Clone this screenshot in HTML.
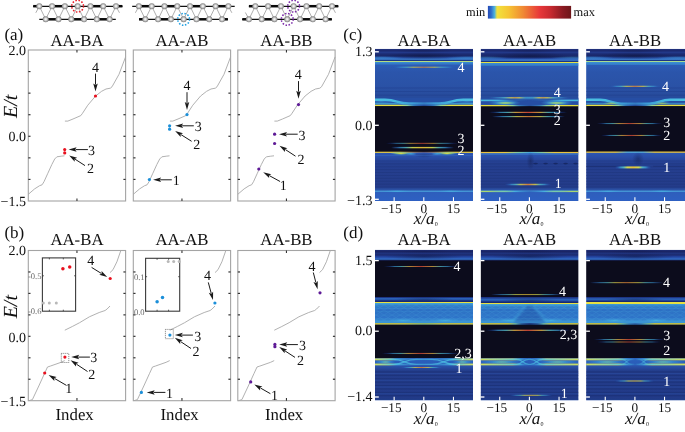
<!DOCTYPE html><html><head><meta charset="utf-8"><style>html,body{margin:0;padding:0;background:#fff;overflow:hidden}svg{display:block;will-change:transform}text{font-family:"Liberation Serif",serif;text-rendering:geometricPrecision}</style></head><body>
<svg width="685" height="432" viewBox="0 0 685 432">
<defs>
<radialGradient id="atom" cx="0.5" cy="0.5" r="0.55" fx="0.5" fy="0.48"><stop offset="0" stop-color="#ffffff"/><stop offset="0.3" stop-color="#e2e2e2"/><stop offset="0.65" stop-color="#a8a8a8"/><stop offset="1" stop-color="#6a6a6a"/></radialGradient>
<linearGradient id="cbar" x1="0" y1="0" x2="1" y2="0">
<stop offset="0" stop-color="#2348b5"/><stop offset="0.04" stop-color="#2f6fcc"/><stop offset="0.08" stop-color="#4fb3dc"/><stop offset="0.11" stop-color="#f2e23c"/>
<stop offset="0.25" stop-color="#f6c433"/><stop offset="0.42" stop-color="#f08a34"/><stop offset="0.62" stop-color="#e8383a"/><stop offset="0.75" stop-color="#c82a30"/><stop offset="0.9" stop-color="#8a1a22"/><stop offset="1" stop-color="#6e1619"/>
</linearGradient>
</defs>
<rect width="685" height="432" fill="#fff"/>
<line x1="33.2" y1="6.4" x2="122.4" y2="6.4" stroke="#111" stroke-width="1.1"/>
<line x1="39.3" y1="19.3" x2="115.8" y2="19.3" stroke="#111" stroke-width="1.2"/>
<line x1="33.20" y1="6.2" x2="39.30" y2="6.2" stroke="#0a0a0a" stroke-width="2.5"/>
<line x1="52.08" y1="6.2" x2="64.86" y2="6.2" stroke="#0a0a0a" stroke-width="2.5"/>
<line x1="90.42" y1="6.2" x2="103.20" y2="6.2" stroke="#0a0a0a" stroke-width="2.5"/>
<line x1="115.98" y1="6.2" x2="122.40" y2="6.2" stroke="#0a0a0a" stroke-width="2.5"/>
<line x1="45.70" y1="19.3" x2="58.48" y2="19.3" stroke="#0a0a0a" stroke-width="2.5"/>
<line x1="71.26" y1="19.3" x2="84.04" y2="19.3" stroke="#0a0a0a" stroke-width="2.5"/>
<line x1="96.82" y1="19.3" x2="109.60" y2="19.3" stroke="#0a0a0a" stroke-width="2.5"/>
<polyline points="39.30,6.20 45.70,19.30 52.08,6.20 58.48,19.30 64.86,6.20 71.26,19.30 77.64,6.20 84.04,19.30 90.42,6.20 96.82,19.30 103.20,6.20 109.60,19.30 115.98,6.20" fill="none" stroke="#9a9a9a" stroke-width="0.8"/>
<line x1="39.30" y1="6.30" x2="35.80" y2="12.80" stroke="#9a9a9a" stroke-width="0.8"/>
<line x1="115.98" y1="6.30" x2="119.48" y2="12.80" stroke="#9a9a9a" stroke-width="0.8"/>
<circle cx="39.30" cy="6.2" r="3.0" fill="url(#atom)"/>
<circle cx="52.08" cy="6.2" r="3.0" fill="url(#atom)"/>
<circle cx="64.86" cy="6.2" r="3.0" fill="url(#atom)"/>
<circle cx="77.64" cy="6.2" r="3.0" fill="url(#atom)"/>
<circle cx="90.42" cy="6.2" r="3.0" fill="url(#atom)"/>
<circle cx="103.20" cy="6.2" r="3.0" fill="url(#atom)"/>
<circle cx="115.98" cy="6.2" r="3.0" fill="url(#atom)"/>
<circle cx="45.70" cy="19.3" r="3.0" fill="url(#atom)"/>
<circle cx="58.48" cy="19.3" r="3.0" fill="url(#atom)"/>
<circle cx="71.26" cy="19.3" r="3.0" fill="url(#atom)"/>
<circle cx="84.04" cy="19.3" r="3.0" fill="url(#atom)"/>
<circle cx="96.82" cy="19.3" r="3.0" fill="url(#atom)"/>
<circle cx="109.60" cy="19.3" r="3.0" fill="url(#atom)"/>
<circle cx="77.64" cy="6.20" r="5.9" fill="none" stroke="#e8202a" stroke-width="1.5" stroke-dasharray="1.5 1.6"/>
<line x1="132.2" y1="6.4" x2="234.7" y2="6.4" stroke="#111" stroke-width="1.1"/>
<line x1="139.0" y1="19.3" x2="227.9" y2="19.3" stroke="#111" stroke-width="1.2"/>
<line x1="138.90" y1="6.2" x2="151.68" y2="6.2" stroke="#0a0a0a" stroke-width="2.5"/>
<line x1="164.46" y1="6.2" x2="177.24" y2="6.2" stroke="#0a0a0a" stroke-width="2.5"/>
<line x1="190.02" y1="6.2" x2="202.80" y2="6.2" stroke="#0a0a0a" stroke-width="2.5"/>
<line x1="215.58" y1="6.2" x2="228.36" y2="6.2" stroke="#0a0a0a" stroke-width="2.5"/>
<line x1="139.00" y1="19.3" x2="145.30" y2="19.3" stroke="#0a0a0a" stroke-width="2.5"/>
<line x1="158.08" y1="19.3" x2="170.86" y2="19.3" stroke="#0a0a0a" stroke-width="2.5"/>
<line x1="196.42" y1="19.3" x2="209.20" y2="19.3" stroke="#0a0a0a" stroke-width="2.5"/>
<line x1="221.98" y1="19.3" x2="227.90" y2="19.3" stroke="#0a0a0a" stroke-width="2.5"/>
<polyline points="138.90,6.20 145.30,19.30 151.68,6.20 158.08,19.30 164.46,6.20 170.86,19.30 177.24,6.20 183.64,19.30 190.02,6.20 196.42,19.30 202.80,6.20 209.20,19.30 215.58,6.20 221.98,19.30 228.36,6.20" fill="none" stroke="#9a9a9a" stroke-width="0.8"/>
<line x1="138.90" y1="6.30" x2="135.40" y2="12.80" stroke="#9a9a9a" stroke-width="0.8"/>
<line x1="228.36" y1="6.30" x2="231.86" y2="12.80" stroke="#9a9a9a" stroke-width="0.8"/>
<circle cx="138.90" cy="6.2" r="3.0" fill="url(#atom)"/>
<circle cx="151.68" cy="6.2" r="3.0" fill="url(#atom)"/>
<circle cx="164.46" cy="6.2" r="3.0" fill="url(#atom)"/>
<circle cx="177.24" cy="6.2" r="3.0" fill="url(#atom)"/>
<circle cx="190.02" cy="6.2" r="3.0" fill="url(#atom)"/>
<circle cx="202.80" cy="6.2" r="3.0" fill="url(#atom)"/>
<circle cx="215.58" cy="6.2" r="3.0" fill="url(#atom)"/>
<circle cx="228.36" cy="6.2" r="3.0" fill="url(#atom)"/>
<circle cx="145.30" cy="19.3" r="3.0" fill="url(#atom)"/>
<circle cx="158.08" cy="19.3" r="3.0" fill="url(#atom)"/>
<circle cx="170.86" cy="19.3" r="3.0" fill="url(#atom)"/>
<circle cx="183.64" cy="19.3" r="3.0" fill="url(#atom)"/>
<circle cx="196.42" cy="19.3" r="3.0" fill="url(#atom)"/>
<circle cx="209.20" cy="19.3" r="3.0" fill="url(#atom)"/>
<circle cx="221.98" cy="19.3" r="3.0" fill="url(#atom)"/>
<circle cx="183.64" cy="19.30" r="5.9" fill="none" stroke="#1e9ee0" stroke-width="1.5" stroke-dasharray="1.5 1.6"/>
<line x1="248.9" y1="6.4" x2="338.3" y2="6.4" stroke="#111" stroke-width="1.1"/>
<line x1="242.3" y1="19.3" x2="331.8" y2="19.3" stroke="#111" stroke-width="1.2"/>
<line x1="248.90" y1="6.2" x2="255.30" y2="6.2" stroke="#0a0a0a" stroke-width="2.5"/>
<line x1="268.08" y1="6.2" x2="280.86" y2="6.2" stroke="#0a0a0a" stroke-width="2.5"/>
<line x1="306.42" y1="6.2" x2="319.20" y2="6.2" stroke="#0a0a0a" stroke-width="2.5"/>
<line x1="331.98" y1="6.2" x2="338.30" y2="6.2" stroke="#0a0a0a" stroke-width="2.5"/>
<line x1="242.30" y1="19.3" x2="248.90" y2="19.3" stroke="#0a0a0a" stroke-width="2.5"/>
<line x1="261.68" y1="19.3" x2="274.46" y2="19.3" stroke="#0a0a0a" stroke-width="2.5"/>
<line x1="300.02" y1="19.3" x2="312.80" y2="19.3" stroke="#0a0a0a" stroke-width="2.5"/>
<line x1="325.58" y1="19.3" x2="331.80" y2="19.3" stroke="#0a0a0a" stroke-width="2.5"/>
<polyline points="248.90,19.30 255.30,6.20 261.68,19.30 268.08,6.20 274.46,19.30 280.86,6.20 287.24,19.30 293.64,6.20 300.02,19.30 306.42,6.20 312.80,19.30 319.20,6.20 325.58,19.30 331.98,6.20" fill="none" stroke="#9a9a9a" stroke-width="0.8"/>
<line x1="248.90" y1="19.00" x2="245.40" y2="12.50" stroke="#9a9a9a" stroke-width="0.8"/>
<line x1="331.98" y1="6.30" x2="335.48" y2="12.80" stroke="#9a9a9a" stroke-width="0.8"/>
<circle cx="255.30" cy="6.2" r="3.0" fill="url(#atom)"/>
<circle cx="268.08" cy="6.2" r="3.0" fill="url(#atom)"/>
<circle cx="280.86" cy="6.2" r="3.0" fill="url(#atom)"/>
<circle cx="293.64" cy="6.2" r="3.0" fill="url(#atom)"/>
<circle cx="306.42" cy="6.2" r="3.0" fill="url(#atom)"/>
<circle cx="319.20" cy="6.2" r="3.0" fill="url(#atom)"/>
<circle cx="331.98" cy="6.2" r="3.0" fill="url(#atom)"/>
<circle cx="248.90" cy="19.3" r="3.0" fill="url(#atom)"/>
<circle cx="261.68" cy="19.3" r="3.0" fill="url(#atom)"/>
<circle cx="274.46" cy="19.3" r="3.0" fill="url(#atom)"/>
<circle cx="287.24" cy="19.3" r="3.0" fill="url(#atom)"/>
<circle cx="300.02" cy="19.3" r="3.0" fill="url(#atom)"/>
<circle cx="312.80" cy="19.3" r="3.0" fill="url(#atom)"/>
<circle cx="325.58" cy="19.3" r="3.0" fill="url(#atom)"/>
<circle cx="293.64" cy="6.20" r="5.9" fill="none" stroke="#7a2aa8" stroke-width="1.5" stroke-dasharray="1.5 1.6"/>
<circle cx="287.24" cy="19.30" r="5.9" fill="none" stroke="#7a2aa8" stroke-width="1.5" stroke-dasharray="1.5 1.6"/>
<rect x="28.30" y="50.00" width="97.30" height="151.00" fill="none" stroke="#a4a4a4" stroke-width="1.1"/>
<line x1="76.95" y1="50.0" x2="76.95" y2="52.6" stroke="#333" stroke-width="1.1"/>
<line x1="76.95" y1="201.0" x2="76.95" y2="198.4" stroke="#333" stroke-width="1.1"/>
<line x1="28.3" y1="71.57" x2="30.50" y2="71.57" stroke="#333" stroke-width="1.2"/>
<line x1="125.60" y1="71.57" x2="123.40" y2="71.57" stroke="#333" stroke-width="1.2"/>
<line x1="28.3" y1="93.14" x2="30.50" y2="93.14" stroke="#333" stroke-width="1.2"/>
<line x1="125.60" y1="93.14" x2="123.40" y2="93.14" stroke="#333" stroke-width="1.2"/>
<line x1="28.3" y1="114.71" x2="30.50" y2="114.71" stroke="#333" stroke-width="1.2"/>
<line x1="125.60" y1="114.71" x2="123.40" y2="114.71" stroke="#333" stroke-width="1.2"/>
<line x1="28.3" y1="136.29" x2="30.50" y2="136.29" stroke="#333" stroke-width="1.2"/>
<line x1="125.60" y1="136.29" x2="123.40" y2="136.29" stroke="#333" stroke-width="1.2"/>
<line x1="28.3" y1="157.86" x2="30.50" y2="157.86" stroke="#333" stroke-width="1.2"/>
<line x1="125.60" y1="157.86" x2="123.40" y2="157.86" stroke="#333" stroke-width="1.2"/>
<line x1="28.3" y1="179.43" x2="30.50" y2="179.43" stroke="#333" stroke-width="1.2"/>
<line x1="125.60" y1="179.43" x2="123.40" y2="179.43" stroke="#333" stroke-width="1.2"/>
<polyline points="64.90,121.10 67.80,121.10 73.00,119.00 80.80,115.60 82.50,113.30 87.80,105.20 95.60,96.00 101.60,91.30 106.00,89.00 110.30,88.20 112.00,86.80 119.00,74.30 125.60,56.90" fill="none" stroke="#a8a8a8" stroke-width="0.9" stroke-linejoin="round"/>
<polyline points="28.30,194.30 34.60,188.90 39.60,185.70 42.10,184.80 44.00,181.70 47.60,173.80 51.90,164.40 54.70,159.00 56.90,156.80 61.20,156.20 64.50,155.80" fill="none" stroke="#a8a8a8" stroke-width="0.9" stroke-linejoin="round"/>
<rect x="28.30" y="250.50" width="97.30" height="150.20" fill="none" stroke="#a4a4a4" stroke-width="1.1"/>
<line x1="76.95" y1="250.5" x2="76.95" y2="253.1" stroke="#333" stroke-width="1.1"/>
<line x1="76.95" y1="400.7" x2="76.95" y2="398.09999999999997" stroke="#333" stroke-width="1.1"/>
<line x1="28.3" y1="271.96" x2="30.50" y2="271.96" stroke="#333" stroke-width="1.2"/>
<line x1="125.60" y1="271.96" x2="123.40" y2="271.96" stroke="#333" stroke-width="1.2"/>
<line x1="28.3" y1="293.41" x2="30.50" y2="293.41" stroke="#333" stroke-width="1.2"/>
<line x1="125.60" y1="293.41" x2="123.40" y2="293.41" stroke="#333" stroke-width="1.2"/>
<line x1="28.3" y1="314.87" x2="30.50" y2="314.87" stroke="#333" stroke-width="1.2"/>
<line x1="125.60" y1="314.87" x2="123.40" y2="314.87" stroke="#333" stroke-width="1.2"/>
<line x1="28.3" y1="336.33" x2="30.50" y2="336.33" stroke="#333" stroke-width="1.2"/>
<line x1="125.60" y1="336.33" x2="123.40" y2="336.33" stroke="#333" stroke-width="1.2"/>
<line x1="28.3" y1="357.79" x2="30.50" y2="357.79" stroke="#333" stroke-width="1.2"/>
<line x1="125.60" y1="357.79" x2="123.40" y2="357.79" stroke="#333" stroke-width="1.2"/>
<line x1="28.3" y1="379.24" x2="30.50" y2="379.24" stroke="#333" stroke-width="1.2"/>
<line x1="125.60" y1="379.24" x2="123.40" y2="379.24" stroke="#333" stroke-width="1.2"/>
<polyline points="120.80,250.60 116.90,261.80 113.00,269.70 110.00,272.60" fill="none" stroke="#a8a8a8" stroke-width="0.9" stroke-linejoin="round"/>
<polyline points="64.80,330.20 72.30,326.50 79.60,322.70 89.40,316.80 99.20,312.50 105.10,310.50 107.10,309.00 110.00,306.00" fill="none" stroke="#a8a8a8" stroke-width="0.9" stroke-linejoin="round"/>
<polyline points="28.90,400.70 32.40,399.60 38.80,386.00 44.60,373.30 47.50,367.00 50.30,366.10 61.10,362.30 64.70,360.60" fill="none" stroke="#a8a8a8" stroke-width="0.9" stroke-linejoin="round"/>
<rect x="133.30" y="50.00" width="97.30" height="151.00" fill="none" stroke="#a4a4a4" stroke-width="1.1"/>
<line x1="181.95" y1="50.0" x2="181.95" y2="52.6" stroke="#333" stroke-width="1.1"/>
<line x1="181.95" y1="201.0" x2="181.95" y2="198.4" stroke="#333" stroke-width="1.1"/>
<line x1="133.3" y1="71.57" x2="135.50" y2="71.57" stroke="#333" stroke-width="1.2"/>
<line x1="230.60" y1="71.57" x2="228.40" y2="71.57" stroke="#333" stroke-width="1.2"/>
<line x1="133.3" y1="93.14" x2="135.50" y2="93.14" stroke="#333" stroke-width="1.2"/>
<line x1="230.60" y1="93.14" x2="228.40" y2="93.14" stroke="#333" stroke-width="1.2"/>
<line x1="133.3" y1="114.71" x2="135.50" y2="114.71" stroke="#333" stroke-width="1.2"/>
<line x1="230.60" y1="114.71" x2="228.40" y2="114.71" stroke="#333" stroke-width="1.2"/>
<line x1="133.3" y1="136.29" x2="135.50" y2="136.29" stroke="#333" stroke-width="1.2"/>
<line x1="230.60" y1="136.29" x2="228.40" y2="136.29" stroke="#333" stroke-width="1.2"/>
<line x1="133.3" y1="157.86" x2="135.50" y2="157.86" stroke="#333" stroke-width="1.2"/>
<line x1="230.60" y1="157.86" x2="228.40" y2="157.86" stroke="#333" stroke-width="1.2"/>
<line x1="133.3" y1="179.43" x2="135.50" y2="179.43" stroke="#333" stroke-width="1.2"/>
<line x1="230.60" y1="179.43" x2="228.40" y2="179.43" stroke="#333" stroke-width="1.2"/>
<polyline points="169.90,121.10 172.80,121.10 178.00,119.00 185.80,115.60 187.50,113.30 192.80,105.20 200.60,96.00 206.60,91.30 211.00,89.00 215.30,88.20 217.00,86.80 224.00,74.30 230.60,56.90" fill="none" stroke="#a8a8a8" stroke-width="0.9" stroke-linejoin="round"/>
<polyline points="133.30,194.30 139.60,188.90 144.60,185.70 147.10,184.80 149.00,181.70 152.60,173.80 156.90,164.40 159.70,159.00 161.90,156.80 166.20,156.20 169.50,155.80" fill="none" stroke="#a8a8a8" stroke-width="0.9" stroke-linejoin="round"/>
<rect x="133.30" y="250.50" width="97.30" height="150.20" fill="none" stroke="#a4a4a4" stroke-width="1.1"/>
<line x1="181.95" y1="250.5" x2="181.95" y2="253.1" stroke="#333" stroke-width="1.1"/>
<line x1="181.95" y1="400.7" x2="181.95" y2="398.09999999999997" stroke="#333" stroke-width="1.1"/>
<line x1="133.3" y1="271.96" x2="135.50" y2="271.96" stroke="#333" stroke-width="1.2"/>
<line x1="230.60" y1="271.96" x2="228.40" y2="271.96" stroke="#333" stroke-width="1.2"/>
<line x1="133.3" y1="293.41" x2="135.50" y2="293.41" stroke="#333" stroke-width="1.2"/>
<line x1="230.60" y1="293.41" x2="228.40" y2="293.41" stroke="#333" stroke-width="1.2"/>
<line x1="133.3" y1="314.87" x2="135.50" y2="314.87" stroke="#333" stroke-width="1.2"/>
<line x1="230.60" y1="314.87" x2="228.40" y2="314.87" stroke="#333" stroke-width="1.2"/>
<line x1="133.3" y1="336.33" x2="135.50" y2="336.33" stroke="#333" stroke-width="1.2"/>
<line x1="230.60" y1="336.33" x2="228.40" y2="336.33" stroke="#333" stroke-width="1.2"/>
<line x1="133.3" y1="357.79" x2="135.50" y2="357.79" stroke="#333" stroke-width="1.2"/>
<line x1="230.60" y1="357.79" x2="228.40" y2="357.79" stroke="#333" stroke-width="1.2"/>
<line x1="133.3" y1="379.24" x2="135.50" y2="379.24" stroke="#333" stroke-width="1.2"/>
<line x1="230.60" y1="379.24" x2="228.40" y2="379.24" stroke="#333" stroke-width="1.2"/>
<polyline points="225.80,250.60 221.90,261.80 218.00,269.70 215.00,272.60" fill="none" stroke="#a8a8a8" stroke-width="0.9" stroke-linejoin="round"/>
<polyline points="169.80,330.20 177.30,326.50 184.60,322.70 194.40,316.80 204.20,312.50 210.10,310.50 212.10,309.00 215.00,306.00" fill="none" stroke="#a8a8a8" stroke-width="0.9" stroke-linejoin="round"/>
<polyline points="133.90,400.70 137.40,399.60 143.80,386.00 149.60,373.30 152.50,367.00 155.30,366.10 166.10,362.30 169.70,360.60" fill="none" stroke="#a8a8a8" stroke-width="0.9" stroke-linejoin="round"/>
<rect x="237.80" y="50.00" width="97.30" height="151.00" fill="none" stroke="#a4a4a4" stroke-width="1.1"/>
<line x1="286.45" y1="50.0" x2="286.45" y2="52.6" stroke="#333" stroke-width="1.1"/>
<line x1="286.45" y1="201.0" x2="286.45" y2="198.4" stroke="#333" stroke-width="1.1"/>
<line x1="237.8" y1="71.57" x2="240.00" y2="71.57" stroke="#333" stroke-width="1.2"/>
<line x1="335.10" y1="71.57" x2="332.90" y2="71.57" stroke="#333" stroke-width="1.2"/>
<line x1="237.8" y1="93.14" x2="240.00" y2="93.14" stroke="#333" stroke-width="1.2"/>
<line x1="335.10" y1="93.14" x2="332.90" y2="93.14" stroke="#333" stroke-width="1.2"/>
<line x1="237.8" y1="114.71" x2="240.00" y2="114.71" stroke="#333" stroke-width="1.2"/>
<line x1="335.10" y1="114.71" x2="332.90" y2="114.71" stroke="#333" stroke-width="1.2"/>
<line x1="237.8" y1="136.29" x2="240.00" y2="136.29" stroke="#333" stroke-width="1.2"/>
<line x1="335.10" y1="136.29" x2="332.90" y2="136.29" stroke="#333" stroke-width="1.2"/>
<line x1="237.8" y1="157.86" x2="240.00" y2="157.86" stroke="#333" stroke-width="1.2"/>
<line x1="335.10" y1="157.86" x2="332.90" y2="157.86" stroke="#333" stroke-width="1.2"/>
<line x1="237.8" y1="179.43" x2="240.00" y2="179.43" stroke="#333" stroke-width="1.2"/>
<line x1="335.10" y1="179.43" x2="332.90" y2="179.43" stroke="#333" stroke-width="1.2"/>
<polyline points="274.40,121.10 277.30,121.10 282.50,119.00 290.30,115.60 292.00,113.30 297.30,105.20 305.10,96.00 311.10,91.30 315.50,89.00 319.80,88.20 321.50,86.80 328.50,74.30 335.10,56.90" fill="none" stroke="#a8a8a8" stroke-width="0.9" stroke-linejoin="round"/>
<polyline points="237.80,194.30 244.10,188.90 249.10,185.70 251.60,184.80 253.50,181.70 257.10,173.80 261.40,164.40 264.20,159.00 266.40,156.80 270.70,156.20 274.00,155.80" fill="none" stroke="#a8a8a8" stroke-width="0.9" stroke-linejoin="round"/>
<rect x="237.80" y="250.50" width="97.30" height="150.20" fill="none" stroke="#a4a4a4" stroke-width="1.1"/>
<line x1="286.45" y1="250.5" x2="286.45" y2="253.1" stroke="#333" stroke-width="1.1"/>
<line x1="286.45" y1="400.7" x2="286.45" y2="398.09999999999997" stroke="#333" stroke-width="1.1"/>
<line x1="237.8" y1="271.96" x2="240.00" y2="271.96" stroke="#333" stroke-width="1.2"/>
<line x1="335.10" y1="271.96" x2="332.90" y2="271.96" stroke="#333" stroke-width="1.2"/>
<line x1="237.8" y1="293.41" x2="240.00" y2="293.41" stroke="#333" stroke-width="1.2"/>
<line x1="335.10" y1="293.41" x2="332.90" y2="293.41" stroke="#333" stroke-width="1.2"/>
<line x1="237.8" y1="314.87" x2="240.00" y2="314.87" stroke="#333" stroke-width="1.2"/>
<line x1="335.10" y1="314.87" x2="332.90" y2="314.87" stroke="#333" stroke-width="1.2"/>
<line x1="237.8" y1="336.33" x2="240.00" y2="336.33" stroke="#333" stroke-width="1.2"/>
<line x1="335.10" y1="336.33" x2="332.90" y2="336.33" stroke="#333" stroke-width="1.2"/>
<line x1="237.8" y1="357.79" x2="240.00" y2="357.79" stroke="#333" stroke-width="1.2"/>
<line x1="335.10" y1="357.79" x2="332.90" y2="357.79" stroke="#333" stroke-width="1.2"/>
<line x1="237.8" y1="379.24" x2="240.00" y2="379.24" stroke="#333" stroke-width="1.2"/>
<line x1="335.10" y1="379.24" x2="332.90" y2="379.24" stroke="#333" stroke-width="1.2"/>
<polyline points="330.30,250.60 326.40,261.80 322.50,269.70 319.50,272.60" fill="none" stroke="#a8a8a8" stroke-width="0.9" stroke-linejoin="round"/>
<polyline points="274.30,330.20 281.80,326.50 289.10,322.70 298.90,316.80 308.70,312.50 314.60,310.50 316.60,309.00 319.50,306.00" fill="none" stroke="#a8a8a8" stroke-width="0.9" stroke-linejoin="round"/>
<polyline points="238.40,400.70 241.90,399.60 248.30,386.00 254.10,373.30 257.00,367.00 259.80,366.10 270.60,362.30 274.20,360.60" fill="none" stroke="#a8a8a8" stroke-width="0.9" stroke-linejoin="round"/>
<text x="76.95" y="45.80" font-size="16.8" text-anchor="middle" fill="#111" style="" >AA-BA</text>
<text x="76.95" y="245.00" font-size="16.8" text-anchor="middle" fill="#111" style="" >AA-BA</text>
<text x="74.65" y="419.60" font-size="16.8" text-anchor="middle" fill="#111" style="" >Index</text>
<text x="181.95" y="45.80" font-size="16.8" text-anchor="middle" fill="#111" style="" >AA-AB</text>
<text x="181.95" y="245.00" font-size="16.8" text-anchor="middle" fill="#111" style="" >AA-AB</text>
<text x="179.65" y="419.60" font-size="16.8" text-anchor="middle" fill="#111" style="" >Index</text>
<text x="286.45" y="45.80" font-size="16.8" text-anchor="middle" fill="#111" style="" >AA-BB</text>
<text x="286.45" y="245.00" font-size="16.8" text-anchor="middle" fill="#111" style="" >AA-BB</text>
<text x="284.15" y="419.60" font-size="16.8" text-anchor="middle" fill="#111" style="" >Index</text>
<text x="424.00" y="45.80" font-size="16.8" text-anchor="middle" fill="#111" style="" >AA-BA</text>
<text x="424.00" y="245.00" font-size="16.8" text-anchor="middle" fill="#111" style="" >AA-BA</text>
<text x="529.60" y="45.80" font-size="16.8" text-anchor="middle" fill="#111" style="" >AA-AB</text>
<text x="529.60" y="245.00" font-size="16.8" text-anchor="middle" fill="#111" style="" >AA-AB</text>
<text x="635.10" y="45.80" font-size="16.8" text-anchor="middle" fill="#111" style="" >AA-BB</text>
<text x="635.10" y="245.00" font-size="16.8" text-anchor="middle" fill="#111" style="" >AA-BB</text>
<text x="4.40" y="39.80" font-size="17" text-anchor="start" fill="#111" style="" >(a)</text>
<text x="4.40" y="237.80" font-size="17" text-anchor="start" fill="#111" style="" >(b)</text>
<text x="343.30" y="39.80" font-size="17" text-anchor="start" fill="#111" style="" >(c)</text>
<text x="343.30" y="237.80" font-size="17" text-anchor="start" fill="#111" style="" >(d)</text>
<text x="26.00" y="54.80" font-size="14" text-anchor="end" fill="#111" style="" >2.0</text>
<text x="26.00" y="141.10" font-size="14" text-anchor="end" fill="#111" style="" >0.0</text>
<text x="26.00" y="205.80" font-size="14" text-anchor="end" fill="#111" style="" >−1.5</text>
<text x="26.00" y="255.30" font-size="14" text-anchor="end" fill="#111" style="" >2.0</text>
<text x="26.00" y="341.60" font-size="14" text-anchor="end" fill="#111" style="" >0.0</text>
<text x="26.00" y="405.50" font-size="14" text-anchor="end" fill="#111" style="" >−1.5</text>
<text x="0" y="0" font-size="20" text-anchor="middle" fill="#111" style="font-style:italic" transform="translate(17.0,106.3) rotate(-90)">E/t</text>
<text x="0" y="0" font-size="20" text-anchor="middle" fill="#111" style="font-style:italic" transform="translate(17.0,306.7) rotate(-90)">E/t</text>
<circle cx="95.50" cy="96.00" r="1.6" fill="#e8101e"/>
<line x1="95.50" y1="73.60" x2="95.50" y2="84.60" stroke="#1a1a1a" stroke-width="1.0"/>
<path d="M95.50,91.60 L93.25,83.60 L95.50,85.10 L97.75,83.60 Z" fill="#1a1a1a"/>
<text x="95.50" y="71.60" font-size="14" text-anchor="middle" fill="#111" style="" >4</text>
<circle cx="64.70" cy="149.60" r="1.6" fill="#e8101e"/>
<circle cx="64.70" cy="152.90" r="1.6" fill="#e8101e"/>
<line x1="87.90" y1="149.60" x2="75.60" y2="149.60" stroke="#1a1a1a" stroke-width="1.0"/>
<path d="M68.60,149.60 L76.60,147.35 L75.10,149.60 L76.60,151.85 Z" fill="#1a1a1a"/>
<text x="91.50" y="155.00" font-size="14" text-anchor="middle" fill="#111" style="" >3</text>
<line x1="85.00" y1="165.60" x2="75.08" y2="159.20" stroke="#1a1a1a" stroke-width="1.0"/>
<path d="M69.20,155.40 L77.14,157.85 L74.66,158.93 L74.70,161.63 Z" fill="#1a1a1a"/>
<text x="90.40" y="172.90" font-size="14" text-anchor="middle" fill="#111" style="" >2</text>
<circle cx="187.00" cy="114.60" r="1.6" fill="#1b8fd9"/>
<line x1="187.00" y1="92.20" x2="187.00" y2="103.00" stroke="#1a1a1a" stroke-width="1.0"/>
<path d="M187.00,110.00 L184.75,102.00 L187.00,103.50 L189.25,102.00 Z" fill="#1a1a1a"/>
<text x="187.00" y="90.30" font-size="14" text-anchor="middle" fill="#111" style="" >4</text>
<circle cx="169.60" cy="125.80" r="1.6" fill="#1b8fd9"/>
<circle cx="169.60" cy="129.20" r="1.6" fill="#1b8fd9"/>
<line x1="193.80" y1="125.80" x2="182.10" y2="125.80" stroke="#1a1a1a" stroke-width="1.0"/>
<path d="M175.10,125.80 L183.10,123.55 L181.60,125.80 L183.10,128.05 Z" fill="#1a1a1a"/>
<text x="198.20" y="130.90" font-size="14" text-anchor="middle" fill="#111" style="" >3</text>
<line x1="191.60" y1="141.30" x2="181.02" y2="134.63" stroke="#1a1a1a" stroke-width="1.0"/>
<path d="M175.10,130.90 L183.07,133.26 L180.60,134.37 L180.67,137.07 Z" fill="#1a1a1a"/>
<text x="196.70" y="149.10" font-size="14" text-anchor="middle" fill="#111" style="" >2</text>
<circle cx="149.40" cy="179.60" r="1.6" fill="#1b8fd9"/>
<line x1="171.80" y1="179.80" x2="160.10" y2="179.80" stroke="#1a1a1a" stroke-width="1.0"/>
<path d="M153.10,179.80 L161.10,177.55 L159.60,179.80 L161.10,182.05 Z" fill="#1a1a1a"/>
<text x="176.20" y="185.40" font-size="14" text-anchor="middle" fill="#111" style="" >1</text>
<circle cx="298.50" cy="104.60" r="1.6" fill="#5e1a96"/>
<line x1="298.50" y1="81.10" x2="298.50" y2="91.70" stroke="#1a1a1a" stroke-width="1.0"/>
<path d="M298.50,98.70 L296.25,90.70 L298.50,92.20 L300.75,90.70 Z" fill="#1a1a1a"/>
<text x="298.30" y="79.30" font-size="14" text-anchor="middle" fill="#111" style="" >4</text>
<circle cx="274.60" cy="134.20" r="1.6" fill="#5e1a96"/>
<circle cx="274.60" cy="143.50" r="1.6" fill="#5e1a96"/>
<line x1="297.70" y1="134.20" x2="286.00" y2="134.20" stroke="#1a1a1a" stroke-width="1.0"/>
<path d="M279.00,134.20 L287.00,131.95 L285.50,134.20 L287.00,136.45 Z" fill="#1a1a1a"/>
<text x="302.10" y="139.60" font-size="14" text-anchor="middle" fill="#111" style="" >3</text>
<line x1="295.50" y1="156.20" x2="285.35" y2="149.54" stroke="#1a1a1a" stroke-width="1.0"/>
<path d="M279.50,145.70 L287.42,148.21 L284.93,149.27 L284.95,151.97 Z" fill="#1a1a1a"/>
<text x="301.00" y="163.90" font-size="14" text-anchor="middle" fill="#111" style="" >2</text>
<circle cx="258.80" cy="169.00" r="1.6" fill="#5e1a96"/>
<line x1="280.10" y1="181.50" x2="269.35" y2="175.65" stroke="#1a1a1a" stroke-width="1.0"/>
<path d="M263.20,172.30 L271.30,174.15 L268.91,175.41 L269.15,178.10 Z" fill="#1a1a1a"/>
<text x="283.20" y="189.60" font-size="14" text-anchor="middle" fill="#111" style="" >1</text>
<circle cx="110.20" cy="278.50" r="1.6" fill="#e8101e"/>
<line x1="91.60" y1="267.40" x2="101.26" y2="273.40" stroke="#1a1a1a" stroke-width="1.0"/>
<path d="M107.20,277.10 L99.22,274.79 L101.68,273.67 L101.59,270.96 Z" fill="#1a1a1a"/>
<text x="90.80" y="264.60" font-size="14" text-anchor="middle" fill="#111" style="" >4</text>
<rect x="61.3" y="353.4" width="7.5" height="9.1" fill="none" stroke="#444" stroke-width="0.7" stroke-dasharray="1 1"/>
<circle cx="64.90" cy="357.10" r="1.6" fill="#e8101e"/>
<line x1="89.90" y1="357.10" x2="78.20" y2="357.10" stroke="#1a1a1a" stroke-width="1.0"/>
<path d="M71.20,357.10 L79.20,354.85 L77.70,357.10 L79.20,359.35 Z" fill="#1a1a1a"/>
<text x="93.80" y="362.30" font-size="14" text-anchor="middle" fill="#111" style="" >3</text>
<line x1="87.50" y1="371.50" x2="76.43" y2="364.17" stroke="#1a1a1a" stroke-width="1.0"/>
<path d="M70.60,360.30 L78.51,362.84 L76.02,363.89 L76.03,366.59 Z" fill="#1a1a1a"/>
<text x="91.80" y="378.90" font-size="14" text-anchor="middle" fill="#111" style="" >2</text>
<circle cx="44.70" cy="373.00" r="1.6" fill="#e8101e"/>
<line x1="66.30" y1="385.30" x2="54.65" y2="378.52" stroke="#1a1a1a" stroke-width="1.0"/>
<path d="M48.60,375.00 L56.65,377.08 L54.22,378.27 L54.38,380.97 Z" fill="#1a1a1a"/>
<text x="68.70" y="392.60" font-size="14" text-anchor="middle" fill="#111" style="" >1</text>
<circle cx="214.90" cy="303.00" r="1.6" fill="#1b8fd9"/>
<line x1="208.30" y1="282.40" x2="211.19" y2="293.24" stroke="#1a1a1a" stroke-width="1.0"/>
<path d="M213.00,300.00 L208.76,292.85 L211.32,293.72 L213.11,291.69 Z" fill="#1a1a1a"/>
<text x="207.40" y="280.40" font-size="14" text-anchor="middle" fill="#111" style="" >4</text>
<rect x="165.4" y="329.4" width="7.9" height="9.3" fill="none" stroke="#444" stroke-width="0.7" stroke-dasharray="1 1"/>
<circle cx="169.90" cy="335.10" r="1.6" fill="#1b8fd9"/>
<line x1="192.90" y1="335.10" x2="181.80" y2="335.10" stroke="#1a1a1a" stroke-width="1.0"/>
<path d="M174.80,335.10 L182.80,332.85 L181.30,335.10 L182.80,337.35 Z" fill="#1a1a1a"/>
<text x="197.80" y="340.50" font-size="14" text-anchor="middle" fill="#111" style="" >3</text>
<line x1="191.00" y1="348.50" x2="180.62" y2="341.58" stroke="#1a1a1a" stroke-width="1.0"/>
<path d="M174.80,337.70 L182.70,340.27 L180.21,341.31 L180.21,344.01 Z" fill="#1a1a1a"/>
<text x="196.00" y="356.30" font-size="14" text-anchor="middle" fill="#111" style="" >2</text>
<circle cx="141.40" cy="392.40" r="1.6" fill="#1b8fd9"/>
<line x1="165.40" y1="392.40" x2="153.70" y2="392.40" stroke="#1a1a1a" stroke-width="1.0"/>
<path d="M146.70,392.40 L154.70,390.15 L153.20,392.40 L154.70,394.65 Z" fill="#1a1a1a"/>
<text x="169.50" y="397.60" font-size="14" text-anchor="middle" fill="#111" style="" >1</text>
<circle cx="320.00" cy="292.80" r="1.6" fill="#5e1a96"/>
<line x1="313.30" y1="272.50" x2="315.85" y2="282.42" stroke="#1a1a1a" stroke-width="1.0"/>
<path d="M317.60,289.20 L313.43,282.01 L315.98,282.91 L317.78,280.89 Z" fill="#1a1a1a"/>
<text x="312.10" y="270.50" font-size="14" text-anchor="middle" fill="#111" style="" >4</text>
<circle cx="274.90" cy="344.40" r="1.6" fill="#5e1a96"/>
<circle cx="274.90" cy="346.70" r="1.6" fill="#5e1a96"/>
<line x1="297.90" y1="344.60" x2="286.20" y2="344.60" stroke="#1a1a1a" stroke-width="1.0"/>
<path d="M279.20,344.60 L287.20,342.35 L285.70,344.60 L287.20,346.85 Z" fill="#1a1a1a"/>
<text x="302.60" y="349.80" font-size="14" text-anchor="middle" fill="#111" style="" >3</text>
<line x1="295.00" y1="357.40" x2="285.06" y2="350.92" stroke="#1a1a1a" stroke-width="1.0"/>
<path d="M279.20,347.10 L287.13,349.58 L284.65,350.65 L284.67,353.35 Z" fill="#1a1a1a"/>
<text x="300.60" y="365.10" font-size="14" text-anchor="middle" fill="#111" style="" >2</text>
<circle cx="250.70" cy="381.90" r="1.6" fill="#5e1a96"/>
<line x1="270.40" y1="393.70" x2="260.38" y2="387.97" stroke="#1a1a1a" stroke-width="1.0"/>
<path d="M254.30,384.50 L262.36,386.52 L259.94,387.72 L260.13,390.42 Z" fill="#1a1a1a"/>
<text x="274.50" y="399.50" font-size="14" text-anchor="middle" fill="#111" style="" >1</text>
<rect x="42.4" y="257.9" width="33.20" height="53.30" fill="#fff" stroke="#3a3a3a" stroke-width="1.1"/>
<line x1="49.37" y1="257.9" x2="49.37" y2="259.4" stroke="#333" stroke-width="0.8"/>
<line x1="49.37" y1="311.2" x2="49.37" y2="309.7" stroke="#333" stroke-width="0.8"/>
<line x1="63.32" y1="257.9" x2="63.32" y2="259.4" stroke="#333" stroke-width="0.8"/>
<line x1="63.32" y1="311.2" x2="63.32" y2="309.7" stroke="#333" stroke-width="0.8"/>
<line x1="42.4" y1="275.8" x2="43.9" y2="275.8" stroke="#333" stroke-width="0.8"/>
<line x1="75.6" y1="275.8" x2="74.1" y2="275.8" stroke="#333" stroke-width="0.8"/>
<text x="41.40" y="278.80" font-size="8.5" text-anchor="end" fill="#666" style="" >-0.5</text>
<text x="41.40" y="313.50" font-size="8.5" text-anchor="end" fill="#666" style="" >-0.6</text>
<circle cx="62.90" cy="268.70" r="1.75" fill="#e8101e"/>
<circle cx="69.70" cy="266.90" r="1.75" fill="#e8101e"/>
<circle cx="43.30" cy="302.90" r="1.5" fill="#b8b8b8"/>
<circle cx="49.30" cy="302.90" r="1.5" fill="#b8b8b8"/>
<circle cx="56.30" cy="302.90" r="1.5" fill="#b8b8b8"/>
<rect x="145.6" y="258.3" width="34.10" height="52.90" fill="#fff" stroke="#3a3a3a" stroke-width="1.1"/>
<line x1="157.09" y1="258.3" x2="157.09" y2="259.8" stroke="#333" stroke-width="0.8"/>
<line x1="157.09" y1="311.2" x2="157.09" y2="309.7" stroke="#333" stroke-width="0.8"/>
<line x1="168.58" y1="258.3" x2="168.58" y2="259.8" stroke="#333" stroke-width="0.8"/>
<line x1="168.58" y1="311.2" x2="168.58" y2="309.7" stroke="#333" stroke-width="0.8"/>
<line x1="145.6" y1="276.7" x2="147.1" y2="276.7" stroke="#333" stroke-width="0.8"/>
<line x1="179.7" y1="276.7" x2="178.2" y2="276.7" stroke="#333" stroke-width="0.8"/>
<text x="144.60" y="279.70" font-size="8.5" text-anchor="end" fill="#666" style="" >0.1</text>
<text x="144.60" y="314.50" font-size="8.5" text-anchor="end" fill="#666" style="" >0.0</text>
<circle cx="157.10" cy="301.80" r="1.75" fill="#1b8fd9"/>
<circle cx="162.50" cy="297.40" r="1.75" fill="#1b8fd9"/>
<circle cx="168.20" cy="261.50" r="1.5" fill="#b8b8b8"/>
<circle cx="173.70" cy="261.50" r="1.5" fill="#b8b8b8"/>
<circle cx="179.20" cy="261.50" r="1.5" fill="#b8b8b8"/>
<defs>
<filter id="bl03" x="-10%" y="-300%" width="120%" height="700%"><feGaussianBlur stdDeviation="0.3"/></filter>
<filter id="bl05" x="-10%" y="-300%" width="120%" height="700%"><feGaussianBlur stdDeviation="0.45"/></filter>
<filter id="bl1" x="-10%" y="-200%" width="120%" height="500%"><feGaussianBlur stdDeviation="0.8"/></filter>
<filter id="bl2" x="-20%" y="-100%" width="140%" height="300%"><feGaussianBlur stdDeviation="1.4"/></filter>
<pattern id="xh" x="0" y="0" width="8" height="5" patternUnits="userSpaceOnUse"><path d="M0,0 L8,5 M0,5 L8,0" stroke="#58b8e8" stroke-width="0.7" fill="none" opacity="0.6"/></pattern>
<radialGradient id="darkc" cx="0.5" cy="0.5" r="0.5"><stop offset="0" stop-color="#0c1238" stop-opacity="0.8"/><stop offset="1" stop-color="#0c1238" stop-opacity="0"/></radialGradient>
<radialGradient id="cyg" cx="0.5" cy="0.5" r="0.5"><stop offset="0" stop-color="#4cc4e6" stop-opacity="0.95"/><stop offset="0.6" stop-color="#40a8e0" stop-opacity="0.5"/><stop offset="1" stop-color="#3aa0e0" stop-opacity="0"/></radialGradient>
<radialGradient id="yeg" cx="0.5" cy="0.5" r="0.5"><stop offset="0" stop-color="#e0dc48" stop-opacity="1"/><stop offset="0.45" stop-color="#98d070" stop-opacity="0.75"/><stop offset="1" stop-color="#48b8e0" stop-opacity="0"/></radialGradient>
</defs>
<linearGradient id="hg1" x1="0" y1="0" x2="1" y2="0"><stop offset="0" stop-color="#2a60b8" stop-opacity="0"/><stop offset="0.06" stop-color="#2a60b8" stop-opacity="0.5"/><stop offset="0.14" stop-color="#3a98d4" stop-opacity="0.8"/><stop offset="0.24" stop-color="#58c0c8" stop-opacity="0.9"/><stop offset="0.34" stop-color="#e0b040" stop-opacity="0.95"/><stop offset="0.5" stop-color="#d84838" stop-opacity="1"/><stop offset="0.66" stop-color="#e0b040" stop-opacity="0.95"/><stop offset="0.76" stop-color="#58c0c8" stop-opacity="0.9"/><stop offset="0.86" stop-color="#3a98d4" stop-opacity="0.8"/><stop offset="0.94" stop-color="#2a60b8" stop-opacity="0.5"/><stop offset="1" stop-color="#2a60b8" stop-opacity="0"/></linearGradient>
<linearGradient id="hg2" x1="0" y1="0" x2="1" y2="0"><stop offset="0" stop-color="#2a60b8" stop-opacity="0"/><stop offset="0.06" stop-color="#2a60b8" stop-opacity="0.5"/><stop offset="0.14" stop-color="#3a98d4" stop-opacity="0.8"/><stop offset="0.24" stop-color="#58c0c8" stop-opacity="0.9"/><stop offset="0.34" stop-color="#d8d048" stop-opacity="0.95"/><stop offset="0.5" stop-color="#e08038" stop-opacity="1"/><stop offset="0.66" stop-color="#d8d048" stop-opacity="0.95"/><stop offset="0.76" stop-color="#58c0c8" stop-opacity="0.9"/><stop offset="0.86" stop-color="#3a98d4" stop-opacity="0.8"/><stop offset="0.94" stop-color="#2a60b8" stop-opacity="0.5"/><stop offset="1" stop-color="#2a60b8" stop-opacity="0"/></linearGradient>
<linearGradient id="hg3" x1="0" y1="0" x2="1" y2="0"><stop offset="0" stop-color="#2a60b8" stop-opacity="0"/><stop offset="0.06" stop-color="#2a60b8" stop-opacity="0.5"/><stop offset="0.14" stop-color="#3a98d4" stop-opacity="0.8"/><stop offset="0.24" stop-color="#58c0c8" stop-opacity="0.9"/><stop offset="0.34" stop-color="#d8e050" stop-opacity="0.95"/><stop offset="0.5" stop-color="#e8c038" stop-opacity="1"/><stop offset="0.66" stop-color="#d8e050" stop-opacity="0.95"/><stop offset="0.76" stop-color="#58c0c8" stop-opacity="0.9"/><stop offset="0.86" stop-color="#3a98d4" stop-opacity="0.8"/><stop offset="0.94" stop-color="#2a60b8" stop-opacity="0.5"/><stop offset="1" stop-color="#2a60b8" stop-opacity="0"/></linearGradient>
<linearGradient id="hg4" x1="0" y1="0" x2="1" y2="0"><stop offset="0" stop-color="#1a3a90" stop-opacity="0"/><stop offset="0.06" stop-color="#1a3a90" stop-opacity="0.5"/><stop offset="0.14" stop-color="#3a98d4" stop-opacity="0.8"/><stop offset="0.24" stop-color="#58c0c8" stop-opacity="0.9"/><stop offset="0.34" stop-color="#e0b040" stop-opacity="0.95"/><stop offset="0.5" stop-color="#d84838" stop-opacity="1"/><stop offset="0.66" stop-color="#e0b040" stop-opacity="0.95"/><stop offset="0.76" stop-color="#58c0c8" stop-opacity="0.9"/><stop offset="0.86" stop-color="#3a98d4" stop-opacity="0.8"/><stop offset="0.94" stop-color="#1a3a90" stop-opacity="0.5"/><stop offset="1" stop-color="#1a3a90" stop-opacity="0"/></linearGradient>
<linearGradient id="hg5" x1="0" y1="0" x2="1" y2="0"><stop offset="0" stop-color="#2a60b8" stop-opacity="0"/><stop offset="0.1" stop-color="#3a98d4" stop-opacity="0.6"/><stop offset="0.2" stop-color="#58c0d0" stop-opacity="0.9"/><stop offset="0.28" stop-color="#d8c848" stop-opacity="1"/><stop offset="0.33" stop-color="#e0a040" stop-opacity="1"/><stop offset="0.38" stop-color="#d8c848" stop-opacity="1"/><stop offset="0.46" stop-color="#48b0d8" stop-opacity="0.7"/><stop offset="0.54" stop-color="#48b0d8" stop-opacity="0.7"/><stop offset="0.62" stop-color="#d8c848" stop-opacity="1"/><stop offset="0.67" stop-color="#e0a040" stop-opacity="1"/><stop offset="0.72" stop-color="#d8c848" stop-opacity="1"/><stop offset="0.8" stop-color="#58c0d0" stop-opacity="0.9"/><stop offset="0.9" stop-color="#3a98d4" stop-opacity="0.6"/><stop offset="1" stop-color="#2a60b8" stop-opacity="0"/></linearGradient>
<linearGradient id="vg6" gradientUnits="userSpaceOnUse" x1="0" y1="48.8" x2="0" y2="201.0"><stop offset="0.0000" stop-color="#243682"/><stop offset="0.0112" stop-color="#1c2a70"/><stop offset="0.0243" stop-color="#223888"/><stop offset="0.0342" stop-color="#1c2c74"/><stop offset="0.0473" stop-color="#1a2868"/><stop offset="0.0578" stop-color="#2a52ae"/><stop offset="0.0690" stop-color="#3a7ecc"/><stop offset="0.0749" stop-color="#1c3684"/><stop offset="0.0782" stop-color="#1c3684"/><stop offset="0.0795" stop-color="#b4dc80"/><stop offset="0.0867" stop-color="#b4dc80"/><stop offset="0.0894" stop-color="#3a88d2"/><stop offset="0.1032" stop-color="#2c5cb6"/><stop offset="0.1524" stop-color="#2b55ab"/><stop offset="0.2444" stop-color="#2a52a6"/><stop offset="0.3101" stop-color="#274b9c"/><stop offset="0.3206" stop-color="#274b9c"/><stop offset="0.3272" stop-color="#2a5cb0"/><stop offset="0.3653" stop-color="#2a5cb0"/><stop offset="0.3693" stop-color="#2a5cb0"/><stop offset="0.3745" stop-color="#1a2a60"/><stop offset="0.3778" stop-color="#0c0c1c"/><stop offset="0.6761" stop-color="#0c0c1c"/><stop offset="0.6787" stop-color="#2c58b4"/><stop offset="0.7109" stop-color="#2a4ea8"/><stop offset="0.7503" stop-color="#253f90"/><stop offset="0.9080" stop-color="#243c8a"/><stop offset="0.9290" stop-color="#2c56ac"/><stop offset="0.9336" stop-color="#4494d4"/><stop offset="0.9389" stop-color="#4494d4"/><stop offset="0.9428" stop-color="#2e5ebc"/><stop offset="1.0000" stop-color="#2e60c2"/></linearGradient>
<clipPath id="cpc0"><rect x="375.0" y="48.8" width="98.0" height="152.20"/></clipPath>
<g clip-path="url(#cpc0)">
<rect x="375.0" y="48.8" width="98.0" height="152.20" fill="url(#vg6)"/>
<ellipse cx="424.00" cy="56.00" rx="40" ry="3.6" fill="url(#darkc)" opacity="0.7"/>
<ellipse cx="381.00" cy="57.80" rx="22" ry="1.8" fill="url(#cyg)" opacity="0.35"/>
<ellipse cx="467.00" cy="57.80" rx="22" ry="1.8" fill="url(#cyg)" opacity="0.35"/>
<ellipse cx="424.00" cy="51.00" rx="30" ry="2.0" fill="url(#darkc)" opacity="0.35"/>
<rect x="375.0" y="87.50" width="98.0" height="0.9" fill="#1e3c8a" opacity="0.45"/>
<rect x="375.0" y="91.10" width="98.0" height="0.9" fill="#1e3c8a" opacity="0.45"/>
<rect x="375.0" y="94.70" width="98.0" height="0.9" fill="#1e3c8a" opacity="0.45"/>
<rect x="375.0" y="160.50" width="98.0" height="0.9" fill="#1c3278" opacity="0.45"/>
<rect x="375.0" y="163.40" width="98.0" height="0.9" fill="#1c3278" opacity="0.45"/>
<rect x="375.0" y="166.30" width="98.0" height="0.9" fill="#1c3278" opacity="0.45"/>
<rect x="375.0" y="169.20" width="98.0" height="0.9" fill="#1c3278" opacity="0.45"/>
<rect x="375.0" y="172.10" width="98.0" height="0.9" fill="#1c3278" opacity="0.45"/>
<rect x="375.0" y="175.00" width="98.0" height="0.9" fill="#1c3278" opacity="0.45"/>
<rect x="375.0" y="177.90" width="98.0" height="0.9" fill="#1c3278" opacity="0.45"/>
<rect x="375.0" y="180.80" width="98.0" height="0.9" fill="#1c3278" opacity="0.45"/>
<rect x="375.0" y="183.70" width="98.0" height="0.9" fill="#1c3278" opacity="0.45"/>
<rect x="375.0" y="186.60" width="98.0" height="0.9" fill="#1c3278" opacity="0.45"/>
<rect x="375.0" y="62.30" width="98.0" height="2.6" fill="#3a90d4" opacity="0.35" filter="url(#bl05)"/>
<linearGradient id="hg7" gradientUnits="userSpaceOnUse" x1="375.0" y1="0" x2="473.0" y2="0"><stop offset="0" stop-color="#50c8e4" stop-opacity="1"/><stop offset="0.2" stop-color="#48c0e4" stop-opacity="1"/><stop offset="0.38" stop-color="#40a8dc" stop-opacity="0.85"/><stop offset="0.5" stop-color="#3a90d0" stop-opacity="0.6"/><stop offset="0.62" stop-color="#40a8dc" stop-opacity="0.85"/><stop offset="0.8" stop-color="#48c0e4" stop-opacity="1"/><stop offset="1" stop-color="#50c8e4" stop-opacity="1"/></linearGradient>
<linearGradient id="hg8" gradientUnits="userSpaceOnUse" x1="375.0" y1="0" x2="473.0" y2="0"><stop offset="0" stop-color="#e8e040" stop-opacity="1"/><stop offset="0.24" stop-color="#e4e044" stop-opacity="1"/><stop offset="0.33" stop-color="#88d0a0" stop-opacity="1"/><stop offset="0.4" stop-color="#3a90d0" stop-opacity="0.7"/><stop offset="0.5" stop-color="#2a5cb0" stop-opacity="0.4"/><stop offset="0.6" stop-color="#3a90d0" stop-opacity="0.7"/><stop offset="0.67" stop-color="#88d0a0" stop-opacity="1"/><stop offset="0.76" stop-color="#e4e044" stop-opacity="1"/><stop offset="1" stop-color="#e8e040" stop-opacity="1"/></linearGradient>
<rect x="375.0" y="97.8" width="98.0" height="7.4" fill="#264ea4"/>
<path d="M372.00,99.8 L385.00,99.8 C397.00,99.8 397.00,103.4 409.00,103.4 L439.00,103.4 C451.00,103.4 451.00,99.8 463.00,99.8 L476.00,99.8" fill="none" stroke="url(#hg7)" stroke-width="2.4" opacity="0.95" filter="url(#bl05)"/>
<rect x="375.0" y="102.8" width="98.0" height="1.6" fill="url(#hg7)" opacity="0.6" filter="url(#bl05)"/>
<ellipse cx="381.00" cy="101.60" rx="12" ry="2.0" fill="url(#cyg)" opacity="0.45"/>
<ellipse cx="467.00" cy="101.60" rx="12" ry="2.0" fill="url(#cyg)" opacity="0.45"/>
<rect x="375.0" y="104.75" width="98.0" height="1.3" fill="url(#hg8)"/>
<linearGradient id="hg9" gradientUnits="userSpaceOnUse" x1="375.0" y1="0" x2="473.0" y2="0"><stop offset="0" stop-color="#e8c840" stop-opacity="1"/><stop offset="0.25" stop-color="#e8d040" stop-opacity="1"/><stop offset="0.4" stop-color="#c89040" stop-opacity="0.6"/><stop offset="0.5" stop-color="#a06040" stop-opacity="0.4"/><stop offset="0.6" stop-color="#c89040" stop-opacity="0.6"/><stop offset="0.75" stop-color="#e8d040" stop-opacity="1"/><stop offset="1" stop-color="#e8c840" stop-opacity="1"/></linearGradient>
<rect x="375.0" y="151.7" width="98.0" height="1.2" fill="url(#hg9)"/>
<ellipse cx="401.00" cy="153.40" rx="11" ry="1.7" fill="url(#yeg)" opacity="1.0"/>
<ellipse cx="447.00" cy="153.40" rx="11" ry="1.7" fill="url(#yeg)" opacity="1.0"/>
<ellipse cx="411.00" cy="153.80" rx="6" ry="1.6" fill="url(#cyg)" opacity="0.8"/>
<ellipse cx="437.00" cy="153.80" rx="6" ry="1.6" fill="url(#cyg)" opacity="0.8"/>
<ellipse cx="424.00" cy="155.50" rx="10" ry="2.5" fill="url(#darkc)" opacity="0.35"/>
<rect x="375.0" y="155.2" width="98.0" height="0.8" fill="#3a70c8" opacity="0.5"/>
<ellipse cx="397.00" cy="191.30" rx="15" ry="1.3" fill="url(#cyg)" opacity="0.6"/>
<ellipse cx="451.00" cy="191.30" rx="15" ry="1.3" fill="url(#cyg)" opacity="0.6"/>
</g>
<linearGradient id="vg10" gradientUnits="userSpaceOnUse" x1="0" y1="249.7" x2="0" y2="400.6"><stop offset="0.0000" stop-color="#203078"/><stop offset="0.0119" stop-color="#1a2566"/><stop offset="0.0252" stop-color="#1f327c"/><stop offset="0.0351" stop-color="#1c2a6e"/><stop offset="0.0451" stop-color="#22409a"/><stop offset="0.0563" stop-color="#2b58b4"/><stop offset="0.0630" stop-color="#3272c8"/><stop offset="0.0689" stop-color="#1a2a6a"/><stop offset="0.0742" stop-color="#0c0c1c"/><stop offset="0.3115" stop-color="#0c0c1c"/><stop offset="0.3161" stop-color="#1c3282"/><stop offset="0.3241" stop-color="#2c66bc"/><stop offset="0.3313" stop-color="#2452a8"/><stop offset="0.3393" stop-color="#182a72"/><stop offset="0.3446" stop-color="#182a72"/><stop offset="0.3459" stop-color="#e8e040"/><stop offset="0.3539" stop-color="#e8e040"/><stop offset="0.3559" stop-color="#40a0d8"/><stop offset="0.3698" stop-color="#3282cc"/><stop offset="0.3996" stop-color="#2c70c4"/><stop offset="0.4526" stop-color="#2e74c8"/><stop offset="0.4758" stop-color="#3a94d4"/><stop offset="0.4851" stop-color="#3a94d4"/><stop offset="0.4864" stop-color="#1a3070"/><stop offset="0.4937" stop-color="#1a3070"/><stop offset="0.4983" stop-color="#0c0c1c"/><stop offset="0.7170" stop-color="#0c0c1c"/><stop offset="0.7203" stop-color="#2a60bc"/><stop offset="0.7641" stop-color="#2a5cb8"/><stop offset="0.7707" stop-color="#2a52aa"/><stop offset="0.8038" stop-color="#233c8a"/><stop offset="0.9828" stop-color="#223a88"/><stop offset="1.0000" stop-color="#2a50a8"/></linearGradient>
<clipPath id="cpd0"><rect x="375.0" y="249.7" width="98.0" height="150.90"/></clipPath>
<g clip-path="url(#cpd0)">
<rect x="375.0" y="249.7" width="98.0" height="150.90" fill="url(#vg10)"/>
<ellipse cx="424.00" cy="256.50" rx="40" ry="3.2" fill="url(#darkc)" opacity="0.6"/>
<ellipse cx="424.00" cy="251.50" rx="30" ry="1.8" fill="url(#darkc)" opacity="0.35"/>
<ellipse cx="403.00" cy="320.50" rx="14" ry="2.2" fill="url(#cyg)" opacity="0.6"/>
<ellipse cx="445.00" cy="320.50" rx="14" ry="2.2" fill="url(#cyg)" opacity="0.6"/>
<ellipse cx="424.00" cy="299.30" rx="30" ry="2.2" fill="url(#darkc)" opacity="0.45"/>
<rect x="375.0" y="304.00" width="98.0" height="17.50" fill="url(#xh)" opacity="0.3"/>
<rect x="375.0" y="308.00" width="98.0" height="0.9" fill="#48a8e0" opacity="0.22"/>
<rect x="375.0" y="311.30" width="98.0" height="0.9" fill="#48a8e0" opacity="0.22"/>
<rect x="375.0" y="314.60" width="98.0" height="0.9" fill="#48a8e0" opacity="0.22"/>
<rect x="375.0" y="317.90" width="98.0" height="0.9" fill="#48a8e0" opacity="0.22"/>
<linearGradient id="hg11" gradientUnits="userSpaceOnUse" x1="375.0" y1="0" x2="473.0" y2="0"><stop offset="0" stop-color="#e8e040" stop-opacity="1"/><stop offset="0.3" stop-color="#e4e044" stop-opacity="1"/><stop offset="0.42" stop-color="#b8d860" stop-opacity="1"/><stop offset="0.5" stop-color="#a8d468" stop-opacity="1"/><stop offset="0.58" stop-color="#b8d860" stop-opacity="1"/><stop offset="0.7" stop-color="#e4e044" stop-opacity="1"/><stop offset="1" stop-color="#e8e040" stop-opacity="1"/></linearGradient>
<rect x="375.0" y="323.2" width="98.0" height="1.3" fill="url(#hg11)"/>
<linearGradient id="hg12" gradientUnits="userSpaceOnUse" x1="375.0" y1="0" x2="473.0" y2="0"><stop offset="0" stop-color="#ece444" stop-opacity="1"/><stop offset="0.14285714285714285" stop-color="#ece444" stop-opacity="1"/><stop offset="0.22285714285714286" stop-color="#48b8e0" stop-opacity="0.8"/><stop offset="0.5" stop-color="#3a8ad0" stop-opacity="0.0"/><stop offset="0.7771428571428572" stop-color="#48b8e0" stop-opacity="0.8"/><stop offset="0.8571428571428572" stop-color="#ece444" stop-opacity="1"/><stop offset="1" stop-color="#ece444" stop-opacity="1"/></linearGradient>
<rect x="375.0" y="358.5" width="98.0" height="1.8" fill="url(#hg12)"/>
<rect x="375.0" y="363.6" width="98.0" height="1.7" fill="url(#hg12)"/>
<ellipse cx="384.90" cy="362.00" rx="10.799999999999999" ry="1.9" fill="url(#cyg)" opacity="0.75"/>
<ellipse cx="463.10" cy="362.00" rx="10.799999999999999" ry="1.9" fill="url(#cyg)" opacity="0.75"/>
<ellipse cx="385.80" cy="362.00" rx="6.3" ry="1.0" fill="url(#yeg)" opacity="0.5"/>
<ellipse cx="462.20" cy="362.00" rx="6.3" ry="1.0" fill="url(#yeg)" opacity="0.5"/>
<linearGradient id="hg13" gradientUnits="userSpaceOnUse" x1="375.0" y1="0" x2="473.0" y2="0"><stop offset="0" stop-color="#50c8e4" stop-opacity="0.2"/><stop offset="0.14285714285714285" stop-color="#50c8e4" stop-opacity="0.9"/><stop offset="0.5" stop-color="#48b8e0" stop-opacity="0.7"/><stop offset="0.8571428571428572" stop-color="#50c8e4" stop-opacity="0.9"/><stop offset="1" stop-color="#50c8e4" stop-opacity="0.2"/></linearGradient>
<path d="M372.00,359.3 L393.00,359.3 C404.50,359.3 404.50,364.3 416.00,364.3 L432.00,364.3 C443.50,364.3 443.50,359.3 455.00,359.3 L476.00,359.3" fill="none" stroke="url(#hg13)" stroke-width="1.3" opacity="0.9" filter="url(#bl05)"/>
<path d="M372.00,364.3 L393.00,364.3 C404.50,364.3 404.50,359.3 416.00,359.3 L432.00,359.3 C443.50,359.3 443.50,364.3 455.00,364.3 L476.00,364.3" fill="none" stroke="url(#hg13)" stroke-width="1.3" opacity="0.9" filter="url(#bl05)"/>
<rect x="375.0" y="371.50" width="98.0" height="0.9" fill="#182c6c" opacity="0.55"/>
<rect x="375.0" y="374.90" width="98.0" height="0.9" fill="#182c6c" opacity="0.55"/>
<rect x="375.0" y="378.30" width="98.0" height="0.9" fill="#182c6c" opacity="0.55"/>
<rect x="375.0" y="381.70" width="98.0" height="0.9" fill="#182c6c" opacity="0.55"/>
<rect x="375.0" y="385.10" width="98.0" height="0.9" fill="#182c6c" opacity="0.55"/>
<rect x="375.0" y="388.50" width="98.0" height="0.9" fill="#182c6c" opacity="0.55"/>
<rect x="375.0" y="391.90" width="98.0" height="0.9" fill="#182c6c" opacity="0.55"/>
<rect x="375.0" y="395.30" width="98.0" height="0.9" fill="#182c6c" opacity="0.55"/>
<rect x="375.0" y="398.70" width="98.0" height="0.9" fill="#182c6c" opacity="0.55"/>
<rect x="375.0" y="373.00" width="98.0" height="0.9" fill="#3058b0" opacity="0.4"/>
<rect x="375.0" y="379.80" width="98.0" height="0.9" fill="#3058b0" opacity="0.4"/>
<rect x="375.0" y="386.60" width="98.0" height="0.9" fill="#3058b0" opacity="0.4"/>
<rect x="375.0" y="393.40" width="98.0" height="0.9" fill="#3058b0" opacity="0.4"/>
</g>
<linearGradient id="vg14" gradientUnits="userSpaceOnUse" x1="0" y1="48.8" x2="0" y2="201.0"><stop offset="0.0000" stop-color="#243682"/><stop offset="0.0112" stop-color="#1c2a70"/><stop offset="0.0243" stop-color="#223888"/><stop offset="0.0342" stop-color="#1c2c74"/><stop offset="0.0539" stop-color="#1a2868"/><stop offset="0.0644" stop-color="#2a52ae"/><stop offset="0.0756" stop-color="#3a7ecc"/><stop offset="0.0815" stop-color="#1c3684"/><stop offset="0.0848" stop-color="#1c3684"/><stop offset="0.0861" stop-color="#e4e044"/><stop offset="0.0933" stop-color="#e4e044"/><stop offset="0.0959" stop-color="#3a88d2"/><stop offset="0.1097" stop-color="#2c5cb6"/><stop offset="0.1524" stop-color="#2b55ab"/><stop offset="0.2444" stop-color="#2a52a6"/><stop offset="0.3101" stop-color="#274b9c"/><stop offset="0.3206" stop-color="#274b9c"/><stop offset="0.3272" stop-color="#2a5cb0"/><stop offset="0.3653" stop-color="#2a5cb0"/><stop offset="0.3706" stop-color="#2a5cb0"/><stop offset="0.3758" stop-color="#1a2a60"/><stop offset="0.3791" stop-color="#0c0c1c"/><stop offset="0.6761" stop-color="#0c0c1c"/><stop offset="0.6787" stop-color="#2c58b4"/><stop offset="0.7109" stop-color="#2a4ea8"/><stop offset="0.7503" stop-color="#253f90"/><stop offset="0.9080" stop-color="#243c8a"/><stop offset="0.9290" stop-color="#2c56ac"/><stop offset="0.9336" stop-color="#4494d4"/><stop offset="0.9389" stop-color="#4494d4"/><stop offset="0.9428" stop-color="#2e5ebc"/><stop offset="1.0000" stop-color="#2e60c2"/></linearGradient>
<clipPath id="cpc1"><rect x="480.6" y="48.8" width="98.0" height="152.20"/></clipPath>
<g clip-path="url(#cpc1)">
<rect x="480.6" y="48.8" width="98.0" height="152.20" fill="url(#vg14)"/>
<ellipse cx="529.60" cy="56.00" rx="40" ry="3.6" fill="url(#darkc)" opacity="0.7"/>
<ellipse cx="486.60" cy="57.80" rx="22" ry="1.8" fill="url(#cyg)" opacity="0.35"/>
<ellipse cx="572.60" cy="57.80" rx="22" ry="1.8" fill="url(#cyg)" opacity="0.35"/>
<ellipse cx="529.60" cy="51.00" rx="30" ry="2.0" fill="url(#darkc)" opacity="0.35"/>
<rect x="480.6" y="87.50" width="98.0" height="0.9" fill="#1e3c8a" opacity="0.45"/>
<rect x="480.6" y="91.10" width="98.0" height="0.9" fill="#1e3c8a" opacity="0.45"/>
<rect x="480.6" y="94.70" width="98.0" height="0.9" fill="#1e3c8a" opacity="0.45"/>
<rect x="480.6" y="160.50" width="98.0" height="0.9" fill="#1c3278" opacity="0.45"/>
<rect x="480.6" y="163.40" width="98.0" height="0.9" fill="#1c3278" opacity="0.45"/>
<rect x="480.6" y="166.30" width="98.0" height="0.9" fill="#1c3278" opacity="0.45"/>
<rect x="480.6" y="169.20" width="98.0" height="0.9" fill="#1c3278" opacity="0.45"/>
<rect x="480.6" y="172.10" width="98.0" height="0.9" fill="#1c3278" opacity="0.45"/>
<rect x="480.6" y="175.00" width="98.0" height="0.9" fill="#1c3278" opacity="0.45"/>
<rect x="480.6" y="177.90" width="98.0" height="0.9" fill="#1c3278" opacity="0.45"/>
<rect x="480.6" y="180.80" width="98.0" height="0.9" fill="#1c3278" opacity="0.45"/>
<rect x="480.6" y="183.70" width="98.0" height="0.9" fill="#1c3278" opacity="0.45"/>
<rect x="480.6" y="186.60" width="98.0" height="0.9" fill="#1c3278" opacity="0.45"/>
<rect x="480.6" y="63.30" width="98.0" height="2.6" fill="#3a90d4" opacity="0.6" filter="url(#bl05)"/>
<linearGradient id="hg15" gradientUnits="userSpaceOnUse" x1="480.6" y1="0" x2="578.6" y2="0"><stop offset="0" stop-color="#50c8e4" stop-opacity="1"/><stop offset="0.2" stop-color="#48c0e4" stop-opacity="1"/><stop offset="0.38" stop-color="#40a8dc" stop-opacity="0.85"/><stop offset="0.5" stop-color="#3a90d0" stop-opacity="0.6"/><stop offset="0.62" stop-color="#40a8dc" stop-opacity="0.85"/><stop offset="0.8" stop-color="#48c0e4" stop-opacity="1"/><stop offset="1" stop-color="#50c8e4" stop-opacity="1"/></linearGradient>
<linearGradient id="hg16" gradientUnits="userSpaceOnUse" x1="480.6" y1="0" x2="578.6" y2="0"><stop offset="0" stop-color="#e8e040" stop-opacity="1"/><stop offset="0.24" stop-color="#e4e044" stop-opacity="1"/><stop offset="0.33" stop-color="#88d0a0" stop-opacity="1"/><stop offset="0.4" stop-color="#3a90d0" stop-opacity="0.7"/><stop offset="0.5" stop-color="#2a5cb0" stop-opacity="0.4"/><stop offset="0.6" stop-color="#3a90d0" stop-opacity="0.7"/><stop offset="0.67" stop-color="#88d0a0" stop-opacity="1"/><stop offset="0.76" stop-color="#e4e044" stop-opacity="1"/><stop offset="1" stop-color="#e8e040" stop-opacity="1"/></linearGradient>
<rect x="480.6" y="97.8" width="98.0" height="7.4" fill="#264ea4"/>
<linearGradient id="hg17" gradientUnits="userSpaceOnUse" x1="480.6" y1="0" x2="578.6" y2="0"><stop offset="0" stop-color="#50c8e4" stop-opacity="1"/><stop offset="0.18" stop-color="#48c0e4" stop-opacity="1"/><stop offset="0.3" stop-color="#40a8dc" stop-opacity="0.3"/><stop offset="0.5" stop-color="#3a90d0" stop-opacity="0"/><stop offset="0.7" stop-color="#40a8dc" stop-opacity="0.3"/><stop offset="0.82" stop-color="#48c0e4" stop-opacity="1"/><stop offset="1" stop-color="#50c8e4" stop-opacity="1"/></linearGradient>
<rect x="480.6" y="99.6" width="98.0" height="1.6" fill="url(#hg17)" opacity="0.9" filter="url(#bl05)"/>
<ellipse cx="504.60" cy="102.80" rx="16" ry="3.0" fill="url(#cyg)" opacity="0.95"/>
<ellipse cx="556.60" cy="102.80" rx="16" ry="3.0" fill="url(#cyg)" opacity="0.95"/>
<ellipse cx="505.60" cy="103.00" rx="11" ry="1.6" fill="url(#yeg)" opacity="0.8"/>
<ellipse cx="556.60" cy="103.00" rx="11" ry="1.6" fill="url(#yeg)" opacity="0.8"/>
<ellipse cx="529.60" cy="98.00" rx="30" ry="2.2" fill="url(#cyg)" opacity="0.35"/>
<rect x="480.6" y="104.95" width="98.0" height="1.3" fill="url(#hg16)"/>
<linearGradient id="hg18" gradientUnits="userSpaceOnUse" x1="480.6" y1="0" x2="578.6" y2="0"><stop offset="0" stop-color="#e8c040" stop-opacity="1"/><stop offset="0.25" stop-color="#e8c840" stop-opacity="1"/><stop offset="0.38" stop-color="#80c8a0" stop-opacity="1"/><stop offset="0.5" stop-color="#48a8d8" stop-opacity="1"/><stop offset="0.62" stop-color="#80c8a0" stop-opacity="1"/><stop offset="0.75" stop-color="#e8c840" stop-opacity="1"/><stop offset="1" stop-color="#e8c040" stop-opacity="1"/></linearGradient>
<rect x="480.6" y="151.9" width="98.0" height="1.3" fill="url(#hg18)"/>
<rect x="480.6" y="153.2" width="98.0" height="1.8" fill="#3a80d0" opacity="0.5" filter="url(#bl03)"/>
<ellipse cx="530.60" cy="161.00" rx="4" ry="9" fill="url(#darkc)" opacity="0.45"/>
<ellipse cx="535.60" cy="163.6" rx="2.4" ry="0.8" fill="#101a48" opacity="0.55" filter="url(#bl03)"/>
<ellipse cx="545.60" cy="163.6" rx="2.4" ry="0.8" fill="#101a48" opacity="0.55" filter="url(#bl03)"/>
<ellipse cx="555.60" cy="163.6" rx="2.4" ry="0.8" fill="#101a48" opacity="0.55" filter="url(#bl03)"/>
<ellipse cx="565.60" cy="163.6" rx="2.4" ry="0.8" fill="#101a48" opacity="0.55" filter="url(#bl03)"/>
<ellipse cx="575.60" cy="163.6" rx="2.4" ry="0.8" fill="#101a48" opacity="0.55" filter="url(#bl03)"/>
<linearGradient id="hg19" gradientUnits="userSpaceOnUse" x1="480.6" y1="0" x2="578.6" y2="0"><stop offset="0" stop-color="#a8d870" stop-opacity="1"/><stop offset="0.25" stop-color="#a8d870" stop-opacity="1"/><stop offset="0.35" stop-color="#48b0e0" stop-opacity="1"/><stop offset="0.5" stop-color="#2a60b8" stop-opacity="0.6"/><stop offset="0.65" stop-color="#48b0e0" stop-opacity="1"/><stop offset="0.75" stop-color="#a8d870" stop-opacity="1"/><stop offset="1" stop-color="#a8d870" stop-opacity="1"/></linearGradient>
<rect x="480.6" y="190.8" width="98.0" height="1.3" fill="url(#hg19)"/>
<ellipse cx="502.60" cy="191.30" rx="15" ry="1.3" fill="url(#cyg)" opacity="0.6"/>
<ellipse cx="556.60" cy="191.30" rx="15" ry="1.3" fill="url(#cyg)" opacity="0.6"/>
</g>
<linearGradient id="vg20" gradientUnits="userSpaceOnUse" x1="0" y1="249.7" x2="0" y2="400.6"><stop offset="0.0000" stop-color="#203078"/><stop offset="0.0119" stop-color="#1a2566"/><stop offset="0.0252" stop-color="#1f327c"/><stop offset="0.0351" stop-color="#1c2a6e"/><stop offset="0.0451" stop-color="#22409a"/><stop offset="0.0563" stop-color="#2b58b4"/><stop offset="0.0630" stop-color="#3272c8"/><stop offset="0.0689" stop-color="#1a2a6a"/><stop offset="0.0742" stop-color="#0c0c1c"/><stop offset="0.3115" stop-color="#0c0c1c"/><stop offset="0.3161" stop-color="#1c3282"/><stop offset="0.3313" stop-color="#2c66bc"/><stop offset="0.3386" stop-color="#2452a8"/><stop offset="0.3466" stop-color="#182a72"/><stop offset="0.3519" stop-color="#182a72"/><stop offset="0.3532" stop-color="#e8e040"/><stop offset="0.3612" stop-color="#e8e040"/><stop offset="0.3632" stop-color="#40a0d8"/><stop offset="0.3771" stop-color="#3282cc"/><stop offset="0.3996" stop-color="#2c70c4"/><stop offset="0.4526" stop-color="#2e74c8"/><stop offset="0.4758" stop-color="#3a94d4"/><stop offset="0.4851" stop-color="#3a94d4"/><stop offset="0.4864" stop-color="#1a3070"/><stop offset="0.4937" stop-color="#1a3070"/><stop offset="0.4983" stop-color="#0c0c1c"/><stop offset="0.7170" stop-color="#0c0c1c"/><stop offset="0.7203" stop-color="#2a60bc"/><stop offset="0.7641" stop-color="#2a5cb8"/><stop offset="0.7707" stop-color="#2a52aa"/><stop offset="0.8038" stop-color="#233c8a"/><stop offset="0.9828" stop-color="#223a88"/><stop offset="1.0000" stop-color="#2a50a8"/></linearGradient>
<clipPath id="cpd1"><rect x="480.6" y="249.7" width="98.0" height="150.90"/></clipPath>
<g clip-path="url(#cpd1)">
<rect x="480.6" y="249.7" width="98.0" height="150.90" fill="url(#vg20)"/>
<ellipse cx="529.60" cy="256.50" rx="40" ry="3.2" fill="url(#darkc)" opacity="0.6"/>
<ellipse cx="529.60" cy="251.50" rx="30" ry="1.8" fill="url(#darkc)" opacity="0.35"/>
<ellipse cx="508.60" cy="320.50" rx="14" ry="2.2" fill="url(#cyg)" opacity="0.6"/>
<ellipse cx="550.60" cy="320.50" rx="14" ry="2.2" fill="url(#cyg)" opacity="0.6"/>
<ellipse cx="529.60" cy="300.40" rx="30" ry="2.2" fill="url(#darkc)" opacity="0.45"/>
<rect x="480.6" y="305.10" width="98.0" height="16.40" fill="url(#xh)" opacity="0.3"/>
<path d="M526.6,306 L532.6,306 L546.6,323.2 L512.6,323.2 Z" fill="#1c4494" opacity="0.32" filter="url(#bl2)"/>
<path d="M525.6,306 L511.6,322.5" stroke="#50c0e8" stroke-width="2" opacity="0.35" filter="url(#bl1)"/>
<path d="M533.6,306 L547.6,322.5" stroke="#50c0e8" stroke-width="2" opacity="0.35" filter="url(#bl1)"/>
<rect x="480.6" y="308.00" width="98.0" height="0.9" fill="#48a8e0" opacity="0.22"/>
<rect x="480.6" y="311.30" width="98.0" height="0.9" fill="#48a8e0" opacity="0.22"/>
<rect x="480.6" y="314.60" width="98.0" height="0.9" fill="#48a8e0" opacity="0.22"/>
<rect x="480.6" y="317.90" width="98.0" height="0.9" fill="#48a8e0" opacity="0.22"/>
<linearGradient id="hg21" gradientUnits="userSpaceOnUse" x1="480.6" y1="0" x2="578.6" y2="0"><stop offset="0" stop-color="#e8e040" stop-opacity="1"/><stop offset="0.28" stop-color="#e4e044" stop-opacity="1"/><stop offset="0.36" stop-color="#70c8b0" stop-opacity="1"/><stop offset="0.42" stop-color="#3a90d0" stop-opacity="0.6"/><stop offset="0.5" stop-color="#2a5cb0" stop-opacity="0.3"/><stop offset="0.58" stop-color="#3a90d0" stop-opacity="0.6"/><stop offset="0.64" stop-color="#70c8b0" stop-opacity="1"/><stop offset="0.72" stop-color="#e4e044" stop-opacity="1"/><stop offset="1" stop-color="#e8e040" stop-opacity="1"/></linearGradient>
<rect x="480.6" y="323.2" width="98.0" height="1.3" fill="url(#hg21)"/>
<linearGradient id="hg22" gradientUnits="userSpaceOnUse" x1="480.6" y1="0" x2="578.6" y2="0"><stop offset="0" stop-color="#ece444" stop-opacity="1"/><stop offset="0.32653061224489793" stop-color="#ece444" stop-opacity="1"/><stop offset="0.40653061224489795" stop-color="#48b8e0" stop-opacity="0.8"/><stop offset="0.5" stop-color="#3a8ad0" stop-opacity="0.0"/><stop offset="0.5934693877551022" stop-color="#48b8e0" stop-opacity="0.8"/><stop offset="0.6734693877551021" stop-color="#ece444" stop-opacity="1"/><stop offset="1" stop-color="#ece444" stop-opacity="1"/></linearGradient>
<rect x="480.6" y="358.5" width="98.0" height="1.8" fill="url(#hg22)"/>
<rect x="480.6" y="363.6" width="98.0" height="1.7" fill="url(#hg22)"/>
<ellipse cx="500.40" cy="362.00" rx="21.599999999999998" ry="1.9" fill="url(#cyg)" opacity="0.75"/>
<ellipse cx="558.80" cy="362.00" rx="21.599999999999998" ry="1.9" fill="url(#cyg)" opacity="0.75"/>
<ellipse cx="502.20" cy="362.00" rx="12.6" ry="1.0" fill="url(#yeg)" opacity="0.5"/>
<ellipse cx="557.00" cy="362.00" rx="12.6" ry="1.0" fill="url(#yeg)" opacity="0.5"/>
<linearGradient id="hg23" gradientUnits="userSpaceOnUse" x1="480.6" y1="0" x2="578.6" y2="0"><stop offset="0" stop-color="#50c8e4" stop-opacity="0.2"/><stop offset="0.32653061224489793" stop-color="#50c8e4" stop-opacity="0.9"/><stop offset="0.5" stop-color="#48b8e0" stop-opacity="0.7"/><stop offset="0.6734693877551021" stop-color="#50c8e4" stop-opacity="0.9"/><stop offset="1" stop-color="#50c8e4" stop-opacity="0.2"/></linearGradient>
<path d="M477.60,359.3 L516.60,359.3 C522.60,359.3 522.60,364.3 528.60,364.3 L530.60,364.3 C536.60,364.3 536.60,359.3 542.60,359.3 L581.60,359.3" fill="none" stroke="url(#hg23)" stroke-width="1.3" opacity="0.9" filter="url(#bl05)"/>
<path d="M477.60,364.3 L516.60,364.3 C522.60,364.3 522.60,359.3 528.60,359.3 L530.60,359.3 C536.60,359.3 536.60,364.3 542.60,364.3 L581.60,364.3" fill="none" stroke="url(#hg23)" stroke-width="1.3" opacity="0.9" filter="url(#bl05)"/>
<rect x="480.6" y="371.50" width="98.0" height="0.9" fill="#182c6c" opacity="0.55"/>
<rect x="480.6" y="374.90" width="98.0" height="0.9" fill="#182c6c" opacity="0.55"/>
<rect x="480.6" y="378.30" width="98.0" height="0.9" fill="#182c6c" opacity="0.55"/>
<rect x="480.6" y="381.70" width="98.0" height="0.9" fill="#182c6c" opacity="0.55"/>
<rect x="480.6" y="385.10" width="98.0" height="0.9" fill="#182c6c" opacity="0.55"/>
<rect x="480.6" y="388.50" width="98.0" height="0.9" fill="#182c6c" opacity="0.55"/>
<rect x="480.6" y="391.90" width="98.0" height="0.9" fill="#182c6c" opacity="0.55"/>
<rect x="480.6" y="395.30" width="98.0" height="0.9" fill="#182c6c" opacity="0.55"/>
<rect x="480.6" y="398.70" width="98.0" height="0.9" fill="#182c6c" opacity="0.55"/>
<rect x="480.6" y="373.00" width="98.0" height="0.9" fill="#3058b0" opacity="0.4"/>
<rect x="480.6" y="379.80" width="98.0" height="0.9" fill="#3058b0" opacity="0.4"/>
<rect x="480.6" y="386.60" width="98.0" height="0.9" fill="#3058b0" opacity="0.4"/>
<rect x="480.6" y="393.40" width="98.0" height="0.9" fill="#3058b0" opacity="0.4"/>
</g>
<linearGradient id="vg24" gradientUnits="userSpaceOnUse" x1="0" y1="48.8" x2="0" y2="201.0"><stop offset="0.0000" stop-color="#243682"/><stop offset="0.0112" stop-color="#1c2a70"/><stop offset="0.0243" stop-color="#223888"/><stop offset="0.0342" stop-color="#1c2c74"/><stop offset="0.0480" stop-color="#1a2868"/><stop offset="0.0585" stop-color="#2a52ae"/><stop offset="0.0696" stop-color="#3a7ecc"/><stop offset="0.0756" stop-color="#1c3684"/><stop offset="0.0788" stop-color="#1c3684"/><stop offset="0.0802" stop-color="#a8dc90"/><stop offset="0.0874" stop-color="#a8dc90"/><stop offset="0.0900" stop-color="#3a88d2"/><stop offset="0.1038" stop-color="#2c5cb6"/><stop offset="0.1524" stop-color="#2b55ab"/><stop offset="0.2444" stop-color="#2a52a6"/><stop offset="0.3101" stop-color="#274b9c"/><stop offset="0.3206" stop-color="#274b9c"/><stop offset="0.3272" stop-color="#2a5cb0"/><stop offset="0.3653" stop-color="#2a5cb0"/><stop offset="0.3693" stop-color="#2a5cb0"/><stop offset="0.3745" stop-color="#1a2a60"/><stop offset="0.3778" stop-color="#0c0c1c"/><stop offset="0.6761" stop-color="#0c0c1c"/><stop offset="0.6787" stop-color="#2c58b4"/><stop offset="0.7109" stop-color="#2a4ea8"/><stop offset="0.7503" stop-color="#253f90"/><stop offset="0.9080" stop-color="#243c8a"/><stop offset="0.9290" stop-color="#2c56ac"/><stop offset="0.9336" stop-color="#4494d4"/><stop offset="0.9389" stop-color="#4494d4"/><stop offset="0.9428" stop-color="#2e5ebc"/><stop offset="1.0000" stop-color="#2e60c2"/></linearGradient>
<clipPath id="cpc2"><rect x="586.1" y="48.8" width="98.89999999999998" height="152.20"/></clipPath>
<g clip-path="url(#cpc2)">
<rect x="586.1" y="48.8" width="98.89999999999998" height="152.20" fill="url(#vg24)"/>
<ellipse cx="635.10" cy="56.00" rx="40" ry="3.6" fill="url(#darkc)" opacity="0.7"/>
<ellipse cx="592.10" cy="57.80" rx="22" ry="1.8" fill="url(#cyg)" opacity="0.35"/>
<ellipse cx="678.10" cy="57.80" rx="22" ry="1.8" fill="url(#cyg)" opacity="0.35"/>
<ellipse cx="635.10" cy="51.00" rx="30" ry="2.0" fill="url(#darkc)" opacity="0.35"/>
<rect x="586.1" y="87.50" width="98.89999999999998" height="0.9" fill="#1e3c8a" opacity="0.45"/>
<rect x="586.1" y="91.10" width="98.89999999999998" height="0.9" fill="#1e3c8a" opacity="0.45"/>
<rect x="586.1" y="94.70" width="98.89999999999998" height="0.9" fill="#1e3c8a" opacity="0.45"/>
<rect x="586.1" y="160.50" width="98.89999999999998" height="0.9" fill="#1c3278" opacity="0.45"/>
<rect x="586.1" y="163.40" width="98.89999999999998" height="0.9" fill="#1c3278" opacity="0.45"/>
<rect x="586.1" y="166.30" width="98.89999999999998" height="0.9" fill="#1c3278" opacity="0.45"/>
<rect x="586.1" y="169.20" width="98.89999999999998" height="0.9" fill="#1c3278" opacity="0.45"/>
<rect x="586.1" y="172.10" width="98.89999999999998" height="0.9" fill="#1c3278" opacity="0.45"/>
<rect x="586.1" y="175.00" width="98.89999999999998" height="0.9" fill="#1c3278" opacity="0.45"/>
<rect x="586.1" y="177.90" width="98.89999999999998" height="0.9" fill="#1c3278" opacity="0.45"/>
<rect x="586.1" y="180.80" width="98.89999999999998" height="0.9" fill="#1c3278" opacity="0.45"/>
<rect x="586.1" y="183.70" width="98.89999999999998" height="0.9" fill="#1c3278" opacity="0.45"/>
<rect x="586.1" y="186.60" width="98.89999999999998" height="0.9" fill="#1c3278" opacity="0.45"/>
<rect x="586.1" y="62.40" width="98.89999999999998" height="2.6" fill="#3a90d4" opacity="0.6" filter="url(#bl05)"/>
<linearGradient id="hg25" gradientUnits="userSpaceOnUse" x1="586.1" y1="0" x2="684.1" y2="0"><stop offset="0" stop-color="#50c8e4" stop-opacity="1"/><stop offset="0.2" stop-color="#48c0e4" stop-opacity="1"/><stop offset="0.38" stop-color="#40a8dc" stop-opacity="0.85"/><stop offset="0.5" stop-color="#3a90d0" stop-opacity="0.6"/><stop offset="0.62" stop-color="#40a8dc" stop-opacity="0.85"/><stop offset="0.8" stop-color="#48c0e4" stop-opacity="1"/><stop offset="1" stop-color="#50c8e4" stop-opacity="1"/></linearGradient>
<linearGradient id="hg26" gradientUnits="userSpaceOnUse" x1="586.1" y1="0" x2="684.1" y2="0"><stop offset="0" stop-color="#e8e040" stop-opacity="1"/><stop offset="0.24" stop-color="#e4e044" stop-opacity="1"/><stop offset="0.33" stop-color="#88d0a0" stop-opacity="1"/><stop offset="0.4" stop-color="#3a90d0" stop-opacity="0.7"/><stop offset="0.5" stop-color="#2a5cb0" stop-opacity="0.4"/><stop offset="0.6" stop-color="#3a90d0" stop-opacity="0.7"/><stop offset="0.67" stop-color="#88d0a0" stop-opacity="1"/><stop offset="0.76" stop-color="#e4e044" stop-opacity="1"/><stop offset="1" stop-color="#e8e040" stop-opacity="1"/></linearGradient>
<rect x="586.1" y="97.8" width="98.89999999999998" height="7.4" fill="#264ea4"/>
<path d="M583.10,99.8 L600.10,99.8 C610.60,99.8 610.60,103.6 621.10,103.6 L649.10,103.6 C659.60,103.6 659.60,99.8 670.10,99.8 L688.00,99.8" fill="none" stroke="url(#hg25)" stroke-width="2.4" opacity="0.95" filter="url(#bl05)"/>
<rect x="586.1" y="102.8" width="98.89999999999998" height="1.4" fill="url(#hg25)" opacity="0.45" filter="url(#bl05)"/>
<ellipse cx="611.10" cy="103.20" rx="9" ry="1.3" fill="url(#yeg)" opacity="0.7"/>
<ellipse cx="662.10" cy="103.20" rx="9" ry="1.3" fill="url(#yeg)" opacity="0.7"/>
<rect x="586.1" y="104.75" width="98.89999999999998" height="1.3" fill="url(#hg26)"/>
<linearGradient id="hg27" gradientUnits="userSpaceOnUse" x1="586.1" y1="0" x2="684.1" y2="0"><stop offset="0" stop-color="#e8c040" stop-opacity="1"/><stop offset="0.3" stop-color="#e8c840" stop-opacity="1"/><stop offset="0.42" stop-color="#58b0d8" stop-opacity="1"/><stop offset="0.58" stop-color="#58b0d8" stop-opacity="1"/><stop offset="0.7" stop-color="#e8c840" stop-opacity="1"/><stop offset="1" stop-color="#e8c040" stop-opacity="1"/></linearGradient>
<rect x="586.1" y="151.5" width="98.89999999999998" height="1.3" fill="url(#hg27)"/>
<ellipse cx="638.10" cy="159.00" rx="6" ry="7" fill="url(#darkc)" opacity="0.45"/>
<rect x="586.1" y="165.8" width="41.00" height="1.0" fill="#101a48" opacity="0.3" filter="url(#bl03)"/>
<rect x="653.10" y="165.8" width="31.00" height="1.0" fill="#101a48" opacity="0.2" filter="url(#bl03)"/>
<ellipse cx="608.10" cy="191.30" rx="15" ry="1.3" fill="url(#cyg)" opacity="0.6"/>
<ellipse cx="662.10" cy="191.30" rx="15" ry="1.3" fill="url(#cyg)" opacity="0.6"/>
</g>
<linearGradient id="vg28" gradientUnits="userSpaceOnUse" x1="0" y1="249.7" x2="0" y2="400.6"><stop offset="0.0000" stop-color="#203078"/><stop offset="0.0119" stop-color="#1a2566"/><stop offset="0.0252" stop-color="#1f327c"/><stop offset="0.0351" stop-color="#1c2a6e"/><stop offset="0.0451" stop-color="#22409a"/><stop offset="0.0563" stop-color="#2b58b4"/><stop offset="0.0630" stop-color="#3272c8"/><stop offset="0.0689" stop-color="#1a2a6a"/><stop offset="0.0742" stop-color="#0c0c1c"/><stop offset="0.3115" stop-color="#0c0c1c"/><stop offset="0.3161" stop-color="#1c3282"/><stop offset="0.3267" stop-color="#2c66bc"/><stop offset="0.3340" stop-color="#2452a8"/><stop offset="0.3419" stop-color="#182a72"/><stop offset="0.3472" stop-color="#182a72"/><stop offset="0.3486" stop-color="#e8e040"/><stop offset="0.3565" stop-color="#e8e040"/><stop offset="0.3585" stop-color="#40a0d8"/><stop offset="0.3724" stop-color="#3282cc"/><stop offset="0.3996" stop-color="#2c70c4"/><stop offset="0.4526" stop-color="#2e74c8"/><stop offset="0.4758" stop-color="#3a94d4"/><stop offset="0.4851" stop-color="#3a94d4"/><stop offset="0.4864" stop-color="#1a3070"/><stop offset="0.4937" stop-color="#1a3070"/><stop offset="0.4983" stop-color="#0c0c1c"/><stop offset="0.7170" stop-color="#0c0c1c"/><stop offset="0.7203" stop-color="#2a60bc"/><stop offset="0.7641" stop-color="#2a5cb8"/><stop offset="0.7707" stop-color="#2a52aa"/><stop offset="0.8038" stop-color="#233c8a"/><stop offset="0.9828" stop-color="#223a88"/><stop offset="1.0000" stop-color="#2a50a8"/></linearGradient>
<clipPath id="cpd2"><rect x="586.1" y="249.7" width="98.89999999999998" height="150.90"/></clipPath>
<g clip-path="url(#cpd2)">
<rect x="586.1" y="249.7" width="98.89999999999998" height="150.90" fill="url(#vg28)"/>
<ellipse cx="635.10" cy="256.50" rx="40" ry="3.2" fill="url(#darkc)" opacity="0.6"/>
<ellipse cx="635.10" cy="251.50" rx="30" ry="1.8" fill="url(#darkc)" opacity="0.35"/>
<ellipse cx="614.10" cy="320.50" rx="14" ry="2.2" fill="url(#cyg)" opacity="0.6"/>
<ellipse cx="656.10" cy="320.50" rx="14" ry="2.2" fill="url(#cyg)" opacity="0.6"/>
<ellipse cx="635.10" cy="299.70" rx="30" ry="2.2" fill="url(#darkc)" opacity="0.45"/>
<rect x="586.1" y="304.40" width="98.89999999999998" height="17.10" fill="url(#xh)" opacity="0.3"/>
<rect x="586.1" y="308.00" width="98.89999999999998" height="0.9" fill="#48a8e0" opacity="0.22"/>
<rect x="586.1" y="311.30" width="98.89999999999998" height="0.9" fill="#48a8e0" opacity="0.22"/>
<rect x="586.1" y="314.60" width="98.89999999999998" height="0.9" fill="#48a8e0" opacity="0.22"/>
<rect x="586.1" y="317.90" width="98.89999999999998" height="0.9" fill="#48a8e0" opacity="0.22"/>
<linearGradient id="hg29" gradientUnits="userSpaceOnUse" x1="586.1" y1="0" x2="684.1" y2="0"><stop offset="0" stop-color="#e8e040" stop-opacity="1"/><stop offset="0.3" stop-color="#e4e044" stop-opacity="1"/><stop offset="0.38" stop-color="#70c8b0" stop-opacity="1"/><stop offset="0.44" stop-color="#40a0d8" stop-opacity="0.9"/><stop offset="0.5" stop-color="#3a88d0" stop-opacity="0.8"/><stop offset="0.56" stop-color="#40a0d8" stop-opacity="0.9"/><stop offset="0.62" stop-color="#70c8b0" stop-opacity="1"/><stop offset="0.7" stop-color="#e4e044" stop-opacity="1"/><stop offset="1" stop-color="#e8e040" stop-opacity="1"/></linearGradient>
<rect x="586.1" y="323.2" width="98.89999999999998" height="1.3" fill="url(#hg29)"/>
<linearGradient id="hg30" gradientUnits="userSpaceOnUse" x1="586.1" y1="0" x2="684.1" y2="0"><stop offset="0" stop-color="#ece444" stop-opacity="1"/><stop offset="0.32653061224489793" stop-color="#ece444" stop-opacity="1"/><stop offset="0.40653061224489795" stop-color="#48b8e0" stop-opacity="0.8"/><stop offset="0.5" stop-color="#3a8ad0" stop-opacity="0.0"/><stop offset="0.5934693877551022" stop-color="#48b8e0" stop-opacity="0.8"/><stop offset="0.6734693877551021" stop-color="#ece444" stop-opacity="1"/><stop offset="1" stop-color="#ece444" stop-opacity="1"/></linearGradient>
<rect x="586.1" y="358.5" width="98.89999999999998" height="1.8" fill="url(#hg30)"/>
<rect x="586.1" y="363.6" width="98.89999999999998" height="1.7" fill="url(#hg30)"/>
<ellipse cx="605.90" cy="362.00" rx="21.599999999999998" ry="1.9" fill="url(#cyg)" opacity="0.75"/>
<ellipse cx="664.30" cy="362.00" rx="21.599999999999998" ry="1.9" fill="url(#cyg)" opacity="0.75"/>
<ellipse cx="607.70" cy="362.00" rx="12.6" ry="1.0" fill="url(#yeg)" opacity="0.5"/>
<ellipse cx="662.50" cy="362.00" rx="12.6" ry="1.0" fill="url(#yeg)" opacity="0.5"/>
<linearGradient id="hg31" gradientUnits="userSpaceOnUse" x1="586.1" y1="0" x2="684.1" y2="0"><stop offset="0" stop-color="#50c8e4" stop-opacity="0.2"/><stop offset="0.32653061224489793" stop-color="#50c8e4" stop-opacity="0.9"/><stop offset="0.5" stop-color="#48b8e0" stop-opacity="0.1"/><stop offset="0.6734693877551021" stop-color="#50c8e4" stop-opacity="0.9"/><stop offset="1" stop-color="#50c8e4" stop-opacity="0.2"/></linearGradient>
<path d="M583.10,359.3 L622.10,359.3 C626.60,359.3 626.60,364.3 631.10,364.3 L639.10,364.3 C643.60,364.3 643.60,359.3 648.10,359.3 L688.00,359.3" fill="none" stroke="url(#hg31)" stroke-width="1.3" opacity="0.9" filter="url(#bl05)"/>
<path d="M583.10,364.3 L622.10,364.3 C626.60,364.3 626.60,359.3 631.10,359.3 L639.10,359.3 C643.60,359.3 643.60,364.3 648.10,364.3 L688.00,364.3" fill="none" stroke="url(#hg31)" stroke-width="1.3" opacity="0.9" filter="url(#bl05)"/>
<rect x="586.1" y="371.50" width="98.89999999999998" height="0.9" fill="#182c6c" opacity="0.55"/>
<rect x="586.1" y="374.90" width="98.89999999999998" height="0.9" fill="#182c6c" opacity="0.55"/>
<rect x="586.1" y="378.30" width="98.89999999999998" height="0.9" fill="#182c6c" opacity="0.55"/>
<rect x="586.1" y="381.70" width="98.89999999999998" height="0.9" fill="#182c6c" opacity="0.55"/>
<rect x="586.1" y="385.10" width="98.89999999999998" height="0.9" fill="#182c6c" opacity="0.55"/>
<rect x="586.1" y="388.50" width="98.89999999999998" height="0.9" fill="#182c6c" opacity="0.55"/>
<rect x="586.1" y="391.90" width="98.89999999999998" height="0.9" fill="#182c6c" opacity="0.55"/>
<rect x="586.1" y="395.30" width="98.89999999999998" height="0.9" fill="#182c6c" opacity="0.55"/>
<rect x="586.1" y="398.70" width="98.89999999999998" height="0.9" fill="#182c6c" opacity="0.55"/>
<rect x="586.1" y="373.00" width="98.89999999999998" height="0.9" fill="#3058b0" opacity="0.4"/>
<rect x="586.1" y="379.80" width="98.89999999999998" height="0.9" fill="#3058b0" opacity="0.4"/>
<rect x="586.1" y="386.60" width="98.89999999999998" height="0.9" fill="#3058b0" opacity="0.4"/>
<rect x="586.1" y="393.40" width="98.89999999999998" height="0.9" fill="#3058b0" opacity="0.4"/>
</g>
<rect x="391.00" y="66.70" width="66.00" height="1.0" fill="url(#hg2)" opacity="0.85" filter="url(#bl03)"/>
<rect x="386.00" y="142.85" width="72.00" height="0.9" fill="url(#hg4)" opacity="0.8" filter="url(#bl03)"/>
<rect x="391.00" y="146.90" width="63.00" height="1.4" fill="url(#hg3)" opacity="0.95" filter="url(#bl03)"/>
<rect x="488.00" y="97.15" width="82.00" height="1.3" fill="url(#hg5)" opacity="0.9" filter="url(#bl03)"/>
<rect x="489.00" y="111.80" width="78.00" height="1.2" fill="url(#hg4)" opacity="0.9" filter="url(#bl03)"/>
<rect x="492.00" y="116.05" width="73.00" height="1.1" fill="url(#hg2)" opacity="0.9" filter="url(#bl03)"/>
<rect x="505.00" y="183.75" width="46.00" height="1.5" fill="url(#hg2)" opacity="0.9" filter="url(#bl03)"/>
<rect x="609.00" y="85.75" width="52.00" height="1.1" fill="url(#hg2)" opacity="0.9" filter="url(#bl03)"/>
<rect x="597.00" y="123.15" width="65.00" height="0.9" fill="url(#hg4)" opacity="0.9" filter="url(#bl03)"/>
<rect x="601.00" y="134.95" width="61.00" height="0.9" fill="url(#hg4)" opacity="0.9" filter="url(#bl03)"/>
<rect x="615.00" y="166.40" width="36.00" height="2.0" fill="url(#hg3)" opacity="1.0" filter="url(#bl03)"/>
<rect x="384.00" y="266.05" width="74.00" height="0.9" fill="url(#hg4)" opacity="0.9" filter="url(#bl03)"/>
<rect x="382.00" y="352.95" width="77.00" height="0.9" fill="url(#hg4)" opacity="0.9" filter="url(#bl03)"/>
<rect x="401.00" y="367.00" width="41.00" height="1.0" fill="url(#hg2)" opacity="0.8" filter="url(#bl03)"/>
<rect x="491.00" y="294.15" width="71.00" height="0.9" fill="url(#hg3)" opacity="0.8" filter="url(#bl03)"/>
<rect x="486.00" y="329.65" width="84.00" height="1.3" fill="url(#hg4)" opacity="0.9" filter="url(#bl03)"/>
<rect x="510.00" y="394.80" width="42.00" height="1.0" fill="url(#hg3)" opacity="0.8" filter="url(#bl03)"/>
<rect x="590.00" y="282.25" width="73.00" height="0.9" fill="url(#hg2)" opacity="0.9" filter="url(#bl03)"/>
<rect x="594.00" y="339.05" width="70.00" height="0.9" fill="url(#hg4)" opacity="0.9" filter="url(#bl03)"/>
<rect x="597.00" y="341.60" width="64.00" height="0.8" fill="url(#hg4)" opacity="0.9" filter="url(#bl03)"/>
<rect x="615.00" y="380.45" width="39.00" height="1.1" fill="url(#hg3)" opacity="0.8" filter="url(#bl03)"/>
<text x="457.60" y="71.60" font-size="14" text-anchor="start" fill="#fff" style="" >4</text>
<text x="457.50" y="143.00" font-size="14" text-anchor="start" fill="#fff" style="" >3</text>
<text x="457.50" y="155.20" font-size="14" text-anchor="start" fill="#fff" style="" >2</text>
<text x="553.80" y="97.30" font-size="14" text-anchor="start" fill="#fff" style="" >4</text>
<text x="553.80" y="114.00" font-size="14" text-anchor="start" fill="#fff" style="" >3</text>
<text x="553.80" y="125.30" font-size="14" text-anchor="start" fill="#fff" style="" >2</text>
<text x="554.70" y="188.30" font-size="14" text-anchor="start" fill="#fff" style="" >1</text>
<text x="662.00" y="91.00" font-size="14" text-anchor="start" fill="#fff" style="" >4</text>
<text x="663.30" y="126.60" font-size="14" text-anchor="start" fill="#fff" style="" >3</text>
<text x="663.30" y="140.30" font-size="14" text-anchor="start" fill="#fff" style="" >2</text>
<text x="663.30" y="172.40" font-size="14" text-anchor="start" fill="#fff" style="" >1</text>
<text x="453.40" y="270.60" font-size="14" text-anchor="start" fill="#fff" style="" >4</text>
<text x="454.20" y="358.30" font-size="14" text-anchor="start" fill="#fff" style="" >2,3</text>
<text x="455.50" y="373.20" font-size="14" text-anchor="start" fill="#fff" style="" >1</text>
<text x="559.00" y="295.70" font-size="14" text-anchor="start" fill="#fff" style="" >4</text>
<text x="559.70" y="338.50" font-size="14" text-anchor="start" fill="#fff" style="" >2,3</text>
<text x="560.70" y="397.70" font-size="14" text-anchor="start" fill="#fff" style="" >1</text>
<text x="662.90" y="287.30" font-size="14" text-anchor="start" fill="#fff" style="" >4</text>
<text x="663.20" y="339.50" font-size="14" text-anchor="start" fill="#fff" style="" >3</text>
<text x="663.20" y="355.00" font-size="14" text-anchor="start" fill="#fff" style="" >2</text>
<text x="663.20" y="386.00" font-size="14" text-anchor="start" fill="#fff" style="" >1</text>
<line x1="375.0" y1="51.8" x2="378.80" y2="51.8" stroke="#fff" stroke-width="1.3"/>
<line x1="375.0" y1="125.3" x2="378.80" y2="125.3" stroke="#fff" stroke-width="1.3"/>
<line x1="375.0" y1="199.3" x2="378.80" y2="199.3" stroke="#fff" stroke-width="1.3"/>
<line x1="394.14" y1="201.0" x2="394.14" y2="197.20" stroke="#fff" stroke-width="1.1"/>
<line x1="423.80" y1="201.0" x2="423.80" y2="197.20" stroke="#fff" stroke-width="1.1"/>
<line x1="453.46" y1="201.0" x2="453.46" y2="197.20" stroke="#fff" stroke-width="1.1"/>
<text x="401.54" y="212.80" font-size="13.2" text-anchor="end" fill="#111" style="" >−15</text>
<text x="423.80" y="212.80" font-size="13.2" text-anchor="middle" fill="#111" style="" >0</text>
<text x="453.46" y="212.80" font-size="13.2" text-anchor="middle" fill="#111" style="" >15</text>
<text x="413.80" y="224.20" font-size="17" fill="#111" style="font-style:italic">x/a</text>
<text x="434.80" y="226.00" font-size="6" fill="#111">0</text>
<line x1="375.0" y1="260.6" x2="378.80" y2="260.6" stroke="#fff" stroke-width="1.3"/>
<line x1="375.0" y1="331.2" x2="378.80" y2="331.2" stroke="#fff" stroke-width="1.3"/>
<line x1="375.0" y1="397.0" x2="378.80" y2="397.0" stroke="#fff" stroke-width="1.3"/>
<line x1="394.14" y1="400.6" x2="394.14" y2="396.80" stroke="#fff" stroke-width="1.1"/>
<line x1="423.80" y1="400.6" x2="423.80" y2="396.80" stroke="#fff" stroke-width="1.1"/>
<line x1="453.46" y1="400.6" x2="453.46" y2="396.80" stroke="#fff" stroke-width="1.1"/>
<text x="401.54" y="412.40" font-size="13.2" text-anchor="end" fill="#111" style="" >−15</text>
<text x="423.80" y="412.40" font-size="13.2" text-anchor="middle" fill="#111" style="" >0</text>
<text x="453.46" y="412.40" font-size="13.2" text-anchor="middle" fill="#111" style="" >15</text>
<text x="413.80" y="423.80" font-size="17" fill="#111" style="font-style:italic">x/a</text>
<text x="434.80" y="425.60" font-size="6" fill="#111">0</text>
<line x1="480.6" y1="51.8" x2="484.40" y2="51.8" stroke="#fff" stroke-width="1.3"/>
<line x1="480.6" y1="125.3" x2="484.40" y2="125.3" stroke="#fff" stroke-width="1.3"/>
<line x1="480.6" y1="199.3" x2="484.40" y2="199.3" stroke="#fff" stroke-width="1.3"/>
<line x1="499.75" y1="201.0" x2="499.75" y2="197.20" stroke="#fff" stroke-width="1.1"/>
<line x1="529.40" y1="201.0" x2="529.40" y2="197.20" stroke="#fff" stroke-width="1.1"/>
<line x1="559.05" y1="201.0" x2="559.05" y2="197.20" stroke="#fff" stroke-width="1.1"/>
<text x="507.14" y="212.80" font-size="13.2" text-anchor="end" fill="#111" style="" >−15</text>
<text x="529.40" y="212.80" font-size="13.2" text-anchor="middle" fill="#111" style="" >0</text>
<text x="559.05" y="212.80" font-size="13.2" text-anchor="middle" fill="#111" style="" >15</text>
<text x="519.40" y="224.20" font-size="17" fill="#111" style="font-style:italic">x/a</text>
<text x="540.40" y="226.00" font-size="6" fill="#111">0</text>
<line x1="480.6" y1="260.6" x2="484.40" y2="260.6" stroke="#fff" stroke-width="1.3"/>
<line x1="480.6" y1="331.2" x2="484.40" y2="331.2" stroke="#fff" stroke-width="1.3"/>
<line x1="480.6" y1="397.0" x2="484.40" y2="397.0" stroke="#fff" stroke-width="1.3"/>
<line x1="499.75" y1="400.6" x2="499.75" y2="396.80" stroke="#fff" stroke-width="1.1"/>
<line x1="529.40" y1="400.6" x2="529.40" y2="396.80" stroke="#fff" stroke-width="1.1"/>
<line x1="559.05" y1="400.6" x2="559.05" y2="396.80" stroke="#fff" stroke-width="1.1"/>
<text x="507.14" y="412.40" font-size="13.2" text-anchor="end" fill="#111" style="" >−15</text>
<text x="529.40" y="412.40" font-size="13.2" text-anchor="middle" fill="#111" style="" >0</text>
<text x="559.05" y="412.40" font-size="13.2" text-anchor="middle" fill="#111" style="" >15</text>
<text x="519.40" y="423.80" font-size="17" fill="#111" style="font-style:italic">x/a</text>
<text x="540.40" y="425.60" font-size="6" fill="#111">0</text>
<line x1="586.1" y1="51.8" x2="589.90" y2="51.8" stroke="#fff" stroke-width="1.3"/>
<line x1="586.1" y1="125.3" x2="589.90" y2="125.3" stroke="#fff" stroke-width="1.3"/>
<line x1="586.1" y1="199.3" x2="589.90" y2="199.3" stroke="#fff" stroke-width="1.3"/>
<line x1="605.25" y1="201.0" x2="605.25" y2="197.20" stroke="#fff" stroke-width="1.1"/>
<line x1="634.90" y1="201.0" x2="634.90" y2="197.20" stroke="#fff" stroke-width="1.1"/>
<line x1="664.55" y1="201.0" x2="664.55" y2="197.20" stroke="#fff" stroke-width="1.1"/>
<text x="612.64" y="212.80" font-size="13.2" text-anchor="end" fill="#111" style="" >−15</text>
<text x="634.90" y="212.80" font-size="13.2" text-anchor="middle" fill="#111" style="" >0</text>
<text x="664.55" y="212.80" font-size="13.2" text-anchor="middle" fill="#111" style="" >15</text>
<text x="624.90" y="224.20" font-size="17" fill="#111" style="font-style:italic">x/a</text>
<text x="645.90" y="226.00" font-size="6" fill="#111">0</text>
<line x1="586.1" y1="260.6" x2="589.90" y2="260.6" stroke="#fff" stroke-width="1.3"/>
<line x1="586.1" y1="331.2" x2="589.90" y2="331.2" stroke="#fff" stroke-width="1.3"/>
<line x1="586.1" y1="397.0" x2="589.90" y2="397.0" stroke="#fff" stroke-width="1.3"/>
<line x1="605.25" y1="400.6" x2="605.25" y2="396.80" stroke="#fff" stroke-width="1.1"/>
<line x1="634.90" y1="400.6" x2="634.90" y2="396.80" stroke="#fff" stroke-width="1.1"/>
<line x1="664.55" y1="400.6" x2="664.55" y2="396.80" stroke="#fff" stroke-width="1.1"/>
<text x="612.64" y="412.40" font-size="13.2" text-anchor="end" fill="#111" style="" >−15</text>
<text x="634.90" y="412.40" font-size="13.2" text-anchor="middle" fill="#111" style="" >0</text>
<text x="664.55" y="412.40" font-size="13.2" text-anchor="middle" fill="#111" style="" >15</text>
<text x="624.90" y="423.80" font-size="17" fill="#111" style="font-style:italic">x/a</text>
<text x="645.90" y="425.60" font-size="6" fill="#111">0</text>
<text x="372.40" y="56.10" font-size="14" text-anchor="end" fill="#111" style="" >1.3</text>
<text x="372.40" y="130.10" font-size="14" text-anchor="end" fill="#111" style="" >0.0</text>
<text x="372.40" y="204.90" font-size="14" text-anchor="end" fill="#111" style="" >−1.3</text>
<text x="372.60" y="264.80" font-size="14" text-anchor="end" fill="#111" style="" >1.5</text>
<text x="372.60" y="335.30" font-size="14" text-anchor="end" fill="#111" style="" >0.0</text>
<text x="372.60" y="400.90" font-size="14" text-anchor="end" fill="#111" style="" >−1.4</text>
<rect x="487.9" y="5.9" width="83.2" height="12.7" fill="url(#cbar)"/>
<text x="485.30" y="16.30" font-size="12.4" text-anchor="end" fill="#111" style="" >min</text>
<text x="573.60" y="16.30" font-size="12.4" text-anchor="start" fill="#111" style="" >max</text>
</svg></body></html>
